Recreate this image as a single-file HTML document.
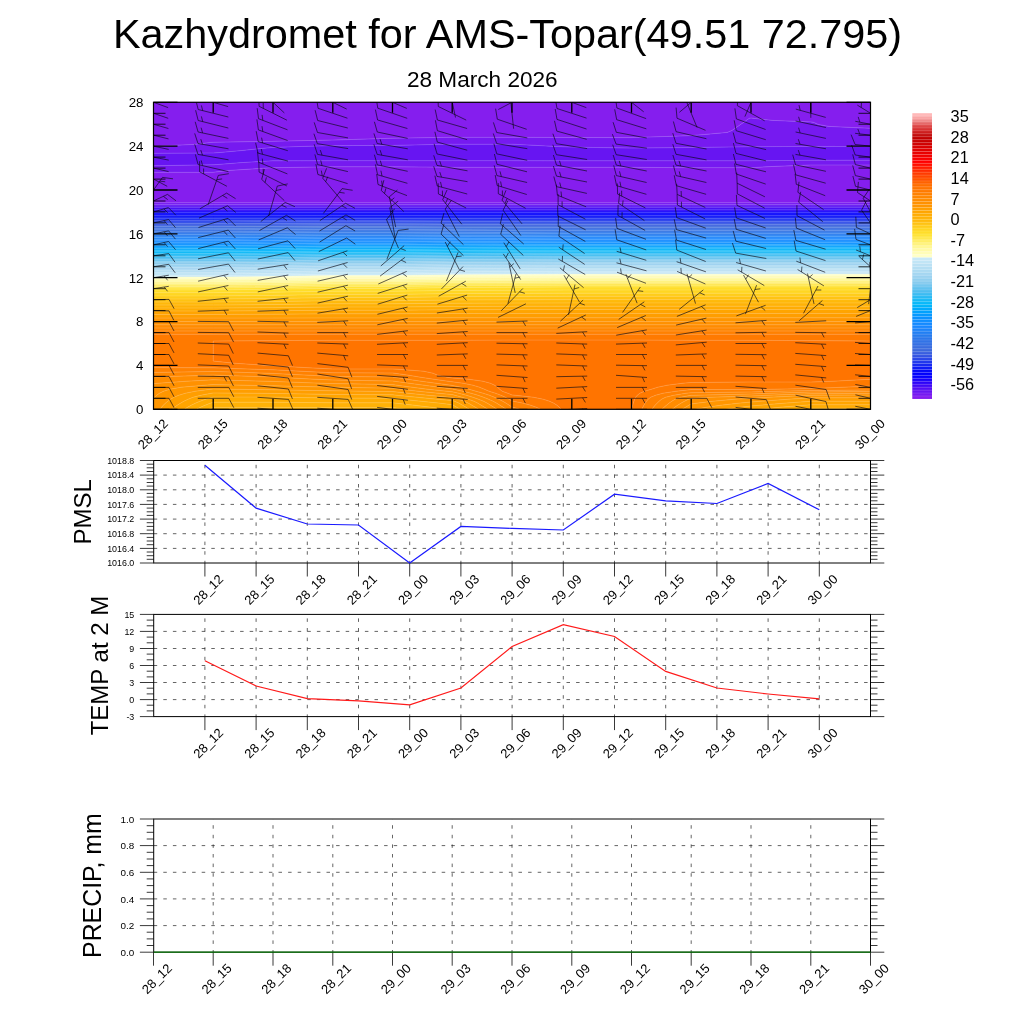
<!DOCTYPE html>
<html><head><meta charset="utf-8"><title>Kazhydromet for AMS-Topar</title>
<style>html,body{margin:0;padding:0;background:#fff}svg{display:block}</style></head>
<body>
<svg width="1024" height="1024" viewBox="0 0 1024 1024" font-family='"Liberation Sans", sans-serif'>
<rect width="1024" height="1024" fill="#fff"/>
<text x="507.5" y="48.3" font-size="41.4" text-anchor="middle">Kazhydromet for AMS-Topar(49.51 72.795)</text>
<text x="482.3" y="86.7" font-size="22.6" text-anchor="middle">28 March 2026</text>
<g shape-rendering="auto">
<path d="M153.5 102.3L213.2 102.3L273.0 102.3L332.8 102.3L392.5 102.3L452.2 102.3L512.0 102.3L571.8 102.3L631.5 102.3L691.2 102.3L751.0 102.3L810.8 102.3L870.5 102.3L870.5 104.3L870.5 106.3L870.5 108.3L870.5 110.3L870.5 112.3L870.5 114.3L870.5 116.3L870.5 118.4L870.5 120.4L870.5 122.4L870.5 124.4L870.5 126.4L870.5 128.3L828.8 126.4L818.2 124.4L813.7 122.4L810.8 121.9L773.0 120.4L754.2 118.4L751.0 118.0L749.1 118.4L746.3 120.4L743.5 122.4L740.7 124.4L737.8 126.4L734.9 128.4L732.0 130.4L727.3 132.4L705.3 134.4L691.2 135.6L668.0 136.4L631.5 137.6L571.8 137.5L512.0 137.3L452.2 137.3L392.5 138.2L385.8 138.4L332.8 140.1L313.1 140.4L273.0 141.3L213.2 142.3L210.8 142.4L194.1 144.4L153.5 146.2L153.5 144.4L153.5 142.4L153.5 140.4L153.5 138.4L153.5 136.4L153.5 134.4L153.5 132.4L153.5 130.4L153.5 128.4L153.5 126.4L153.5 124.4L153.5 122.4L153.5 120.4L153.5 118.4L153.5 116.3L153.5 114.3L153.5 112.3L153.5 110.3L153.5 108.3L153.5 106.3L153.5 104.3ZM772.0 166.5L810.8 165.0L870.5 165.0L870.5 166.5L870.5 168.5L870.5 170.5L870.5 172.5L870.5 174.5L870.5 176.5L870.5 178.5L870.5 180.6L870.5 182.6L870.5 184.6L870.5 186.6L870.5 188.6L870.5 190.6L870.5 192.6L870.5 194.6L870.5 196.6L870.5 198.6L870.5 200.6L870.5 202.6L870.5 202.7L810.8 202.7L751.0 202.7L691.2 202.7L631.5 202.7L571.8 202.7L512.0 202.7L452.2 202.7L392.5 202.7L332.8 202.7L273.0 202.7L213.2 202.7L153.5 202.7L153.5 202.6L153.5 200.6L153.5 198.6L153.5 196.6L153.5 194.6L153.5 192.6L153.5 190.6L153.5 188.6L153.5 186.6L153.5 184.6L153.5 182.6L153.5 180.6L153.5 178.5L153.5 176.5L153.5 174.5L153.5 172.5L153.5 172.3L213.2 172.3L228.3 170.5L259.4 168.5L273.0 167.7L332.8 166.8L392.5 166.8L452.2 167.3L512.0 167.3L571.8 167.3L631.5 167.3L691.2 167.7L751.0 167.7Z" fill="#851eee" stroke="#851eee" stroke-width="0.4"/>
<path d="M749.1 118.4L751.0 118.0L754.2 118.4L773.0 120.4L810.8 121.9L813.7 122.4L818.2 124.4L828.8 126.4L870.5 128.3L870.5 128.4L870.5 130.4L870.5 132.4L870.5 134.4L870.5 136.4L870.5 138.4L870.5 140.4L870.5 142.4L870.5 144.4L870.5 146.4L835.5 146.4L810.8 146.5L751.0 146.7L691.2 147.5L631.5 148.1L571.8 147.1L555.1 146.4L517.4 144.4L512.0 144.2L452.2 144.2L437.8 144.4L392.5 145.4L332.8 145.6L303.3 146.4L273.0 147.4L261.0 148.5L242.1 150.5L219.9 152.5L213.2 153.0L153.5 153.3L153.5 152.5L153.5 150.5L153.5 148.5L153.5 146.4L153.5 146.2L194.1 144.4L210.8 142.4L213.2 142.3L273.0 141.3L313.1 140.4L332.8 140.1L385.8 138.4L392.5 138.2L452.2 137.3L512.0 137.3L571.8 137.5L631.5 137.6L668.0 136.4L691.2 135.6L705.3 134.4L727.3 132.4L732.0 130.4L734.9 128.4L737.8 126.4L740.7 124.4L743.5 122.4L746.3 120.4ZM790.5 160.5L810.8 160.3L870.5 160.2L870.5 160.5L870.5 162.5L870.5 164.5L870.5 165.0L810.8 165.0L772.0 166.5L751.0 167.7L691.2 167.7L631.5 167.3L571.8 167.3L512.0 167.3L452.2 167.3L392.5 166.8L332.8 166.8L273.0 167.7L259.4 168.5L228.3 170.5L213.2 172.3L153.5 172.3L153.5 170.5L153.5 168.5L153.5 166.5L153.5 165.7L213.2 164.8L217.8 164.5L242.8 162.5L273.0 160.8L332.8 160.7L392.5 160.7L452.2 160.7L512.0 160.7L571.8 160.8L631.5 160.8L691.2 160.8L751.0 160.8ZM153.5 204.6L153.5 202.7L213.2 202.7L273.0 202.7L332.8 202.7L392.5 202.7L452.2 202.7L512.0 202.7L571.8 202.7L631.5 202.7L691.2 202.7L751.0 202.7L810.8 202.7L870.5 202.7L870.5 204.6L810.8 204.6L751.0 204.6L691.2 204.6L631.5 204.6L571.8 204.6L512.0 204.6L452.2 204.6L392.5 204.6L332.8 204.6L273.0 204.6L213.2 204.6Z" fill="#761af0" stroke="#761af0" stroke-width="0.4"/>
<path d="M437.8 144.4L452.2 144.2L512.0 144.2L517.4 144.4L555.1 146.4L571.8 147.1L631.5 148.1L691.2 147.5L751.0 146.7L810.8 146.5L835.5 146.4L870.5 146.4L870.5 146.4L870.5 148.5L870.5 150.5L870.5 152.5L870.5 154.5L870.5 156.5L870.5 158.5L870.5 160.2L810.7 160.3L790.5 160.5L751.0 160.8L691.2 160.8L631.5 160.8L571.8 160.8L512.0 160.7L452.2 160.7L392.5 160.7L332.8 160.7L273.0 160.8L242.8 162.5L217.8 164.5L213.2 164.8L153.5 165.7L153.5 164.5L153.5 162.5L153.5 160.5L153.5 158.5L153.5 156.5L153.5 154.5L153.5 153.3L213.2 153.0L219.9 152.5L242.1 150.5L261.0 148.5L273.0 147.4L303.3 146.4L332.8 145.6L392.5 145.4ZM153.5 204.6L153.5 204.6L213.2 204.6L273.0 204.6L332.8 204.6L392.5 204.6L452.2 204.6L512.0 204.6L571.8 204.6L631.5 204.6L691.2 204.6L751.0 204.6L810.8 204.6L870.5 204.6L870.5 204.6L870.5 206.1L810.8 206.1L751.0 206.1L691.2 206.1L631.5 206.1L571.8 206.1L512.0 206.1L452.2 206.1L392.5 206.1L332.8 206.1L273.0 206.1L213.2 206.1L153.5 206.1Z" fill="#6715f2" stroke="#6715f2" stroke-width="0.4"/>
<path d="M153.5 206.6L153.5 206.1L213.2 206.1L273.0 206.1L332.8 206.1L392.5 206.1L452.2 206.1L512.0 206.1L571.8 206.1L631.5 206.1L691.2 206.1L751.0 206.1L810.8 206.1L870.5 206.1L870.5 206.6L870.5 207.7L810.8 207.7L751.0 207.7L691.2 207.7L631.5 207.7L571.8 207.7L512.0 207.7L452.2 207.7L392.5 207.7L332.8 207.7L273.0 207.7L213.2 207.7L153.5 207.7Z" fill="#540ef4" stroke="#540ef4" stroke-width="0.4"/>
<path d="M153.5 208.6L153.5 207.7L213.2 207.7L273.0 207.7L332.8 207.7L392.5 207.7L452.2 207.7L512.0 207.7L571.8 207.7L631.5 207.7L691.2 207.7L751.0 207.7L810.8 207.7L870.5 207.7L870.5 208.6L870.5 209.3L810.8 209.3L751.0 209.3L691.2 209.3L631.5 209.3L571.8 209.3L512.0 209.3L452.2 209.3L392.5 209.3L332.8 209.3L273.0 209.3L213.2 209.3L153.5 209.3Z" fill="#4008f6" stroke="#4008f6" stroke-width="0.4"/>
<path d="M153.5 210.7L153.5 209.3L213.2 209.3L273.0 209.3L332.8 209.3L392.5 209.3L452.2 209.3L512.0 209.3L571.8 209.3L631.5 209.3L691.2 209.3L751.0 209.3L810.8 209.3L870.5 209.3L870.5 210.7L870.5 210.9L810.8 210.9L751.0 210.9L691.2 210.9L631.5 210.9L571.8 210.9L512.0 210.9L452.2 210.9L392.5 210.9L332.8 210.9L273.0 210.9L213.2 210.9L153.5 210.9Z" fill="#2c03f8" stroke="#2c03f8" stroke-width="0.4"/>
<path d="M153.5 212.4L153.5 210.9L213.2 210.9L273.0 210.9L332.7 210.9L392.5 210.9L452.2 210.9L512.0 210.9L571.7 210.9L631.5 210.9L691.2 210.9L751.0 210.9L810.7 210.9L870.5 210.9L870.5 212.4L810.8 212.4L751.0 212.4L691.2 212.4L631.5 212.4L571.8 212.4L512.0 212.4L452.2 212.4L392.5 212.4L332.8 212.4L273.0 212.4L213.2 212.4Z" fill="#1800fb" stroke="#1800fb" stroke-width="0.4"/>
<path d="M153.5 212.7L153.5 212.4L213.2 212.4L273.0 212.4L332.8 212.4L392.5 212.4L452.2 212.4L512.0 212.4L571.8 212.4L631.5 212.4L691.2 212.4L751.0 212.4L810.8 212.4L870.5 212.4L870.5 212.7L870.5 214.0L810.8 214.0L751.0 214.0L691.2 214.0L631.5 214.0L571.8 214.0L512.0 214.0L452.2 214.0L392.5 214.0L332.8 214.0L273.0 214.0L213.2 214.0L153.5 214.0Z" fill="#0600fe" stroke="#0600fe" stroke-width="0.4"/>
<path d="M153.5 214.7L153.5 214.0L213.2 214.0L273.0 214.0L332.8 214.0L392.5 214.0L452.2 214.0L512.0 214.0L571.8 214.0L631.5 214.0L691.2 214.0L751.0 214.0L810.8 214.0L870.5 214.0L870.5 214.7L870.5 215.5L810.8 215.5L751.0 215.5L691.2 215.5L631.5 215.5L571.8 215.5L512.0 215.5L452.2 215.5L392.5 215.5L332.8 215.5L273.0 215.6L213.2 215.6L153.5 215.6Z" fill="#0000fc" stroke="#0000fc" stroke-width="0.4"/>
<path d="M153.5 216.7L153.5 215.6L213.2 215.6L273.0 215.6L332.8 215.5L392.5 215.5L452.2 215.5L512.0 215.5L571.8 215.5L631.5 215.5L691.2 215.5L751.0 215.5L810.8 215.5L870.5 215.5L870.5 216.7L870.5 217.0L810.8 217.0L751.0 217.0L691.2 217.0L631.5 217.0L571.8 217.0L512.0 217.0L452.2 217.0L392.5 217.1L332.8 217.1L273.0 217.1L213.2 217.1L153.5 217.1Z" fill="#0408f9" stroke="#0408f9" stroke-width="0.4"/>
<path d="M153.5 218.7L153.5 217.1L213.2 217.1L273.0 217.1L332.8 217.1L392.5 217.1L452.2 217.0L512.0 217.0L571.8 217.0L631.5 217.0L691.2 217.0L751.0 217.0L810.8 217.0L870.5 217.0L870.5 218.5L810.8 218.5L751.0 218.5L691.2 218.5L631.5 218.5L571.8 218.5L512.0 218.5L452.3 218.6L392.5 218.6L332.8 218.6L279.6 218.7L273.0 218.7L213.2 218.7L153.5 218.7Z" fill="#0d1af6" stroke="#0d1af6" stroke-width="0.4"/>
<path d="M279.6 218.7L332.8 218.6L392.5 218.6L452.2 218.6L512.0 218.5L571.8 218.5L631.5 218.5L691.2 218.5L751.0 218.5L810.8 218.5L870.5 218.5L870.5 218.7L870.5 220.0L810.8 220.0L751.0 220.0L691.2 220.0L631.5 220.0L571.8 220.0L512.0 220.1L452.2 220.1L392.5 220.2L332.8 220.2L273.0 220.2L213.2 220.3L153.5 220.3L153.5 218.7L213.2 218.7L273.0 218.7Z" fill="#1729f1" stroke="#1729f1" stroke-width="0.4"/>
<path d="M153.5 220.7L153.5 220.3L213.2 220.3L273.0 220.2L332.8 220.2L392.5 220.2L452.2 220.1L512.0 220.1L571.8 220.0L631.5 220.0L691.2 220.0L751.0 220.0L810.8 220.0L870.5 220.0L870.5 220.7L870.5 221.5L810.8 221.5L751.0 221.5L691.2 221.5L631.5 221.5L571.8 221.5L512.0 221.6L452.2 221.6L392.5 221.7L332.8 221.7L273.0 221.8L213.2 221.9L153.5 221.9Z" fill="#2038ec" stroke="#2038ec" stroke-width="0.4"/>
<path d="M153.5 222.7L153.5 221.9L213.2 221.9L273.0 221.8L332.8 221.7L392.5 221.7L452.2 221.6L512.0 221.6L571.8 221.5L631.5 221.5L691.2 221.5L751.0 221.5L810.8 221.5L870.5 221.5L870.5 222.7L870.5 223.0L810.8 223.0L751.0 223.0L691.2 223.0L631.5 223.0L571.8 223.0L512.0 223.1L452.2 223.1L392.5 223.2L332.8 223.2L273.0 223.4L213.2 223.4L153.5 223.4Z" fill="#2946e8" stroke="#2946e8" stroke-width="0.4"/>
<path d="M153.5 224.7L153.5 223.4L213.2 223.4L273.0 223.4L332.8 223.2L392.5 223.2L452.2 223.1L512.0 223.1L571.8 223.0L631.5 223.0L691.2 223.0L751.0 223.0L810.8 223.0L870.5 223.0L870.5 224.6L810.8 224.6L751.0 224.6L691.3 224.6L631.5 224.6L571.8 224.6L512.0 224.6L452.2 224.6L419.5 224.7L392.5 224.8L332.8 224.8L273.0 224.9L213.2 225.0L153.5 225.0Z" fill="#3253e3" stroke="#3253e3" stroke-width="0.4"/>
<path d="M419.5 224.7L452.2 224.6L512.0 224.6L571.8 224.6L631.5 224.6L691.2 224.6L751.0 224.6L810.8 224.6L870.5 224.6L870.5 224.7L870.5 226.1L810.8 226.1L751.0 226.1L691.2 226.1L631.5 226.1L571.8 226.1L512.0 226.1L452.2 226.1L392.5 226.3L332.8 226.3L273.0 226.5L213.2 226.6L153.5 226.6L153.5 225.0L213.2 225.0L273.0 224.9L332.8 224.8L392.5 224.8Z" fill="#395fdf" stroke="#395fdf" stroke-width="0.4"/>
<path d="M153.5 226.7L153.5 226.6L213.2 226.6L273.0 226.5L332.8 226.3L392.5 226.3L452.2 226.1L512.0 226.1L571.8 226.1L631.5 226.1L691.2 226.1L751.0 226.1L810.8 226.1L870.5 226.1L870.5 226.7L870.5 227.6L810.8 227.6L751.0 227.6L691.2 227.6L631.5 227.6L571.8 227.6L512.0 227.6L452.2 227.7L392.5 227.8L332.8 227.8L273.0 228.1L213.2 228.2L153.5 228.2Z" fill="#3c69dc" stroke="#3c69dc" stroke-width="0.4"/>
<path d="M153.5 228.7L153.5 228.2L213.2 228.2L273.0 228.1L332.8 227.8L392.5 227.8L452.2 227.7L512.0 227.6L571.8 227.6L631.5 227.6L691.2 227.6L751.0 227.6L810.8 227.6L870.5 227.6L870.5 228.7L870.5 229.1L810.8 229.1L751.0 229.1L691.2 229.1L631.5 229.1L571.8 229.1L512.0 229.1L452.2 229.2L392.5 229.4L332.8 229.4L273.0 229.6L213.2 229.8L153.5 229.8Z" fill="#396cdf" stroke="#396cdf" stroke-width="0.4"/>
<path d="M153.5 230.7L153.5 229.8L213.2 229.8L273.0 229.6L332.8 229.4L392.5 229.4L452.2 229.2L512.0 229.1L571.8 229.1L631.5 229.1L691.2 229.1L751.0 229.1L810.8 229.1L870.5 229.1L870.5 230.6L810.8 230.6L751.0 230.6L691.2 230.6L631.5 230.6L571.8 230.6L512.0 230.6L452.2 230.7L445.2 230.7L392.5 230.9L332.8 230.9L273.0 231.2L213.2 231.3L153.5 231.3Z" fill="#3570e3" stroke="#3570e3" stroke-width="0.4"/>
<path d="M445.2 230.7L452.2 230.7L512.0 230.6L571.8 230.6L631.5 230.6L691.2 230.6L751.0 230.6L810.8 230.6L870.5 230.6L870.5 230.7L870.5 232.1L810.8 232.1L751.0 232.1L691.2 232.1L631.5 232.1L571.8 232.1L512.0 232.1L452.2 232.2L392.5 232.4L332.8 232.4L277.9 232.7L273.0 232.8L213.2 232.9L153.5 232.9L153.5 232.7L153.5 231.3L213.2 231.3L273.0 231.2L332.8 230.9L392.5 230.9Z" fill="#3273e6" stroke="#3273e6" stroke-width="0.4"/>
<path d="M277.9 232.7L332.8 232.4L392.5 232.4L452.2 232.2L512.0 232.2L571.8 232.1L631.5 232.1L691.2 232.1L751.0 232.1L810.8 232.1L870.5 232.1L870.5 232.7L870.5 233.6L810.8 233.6L751.0 233.6L691.2 233.6L631.5 233.6L571.8 233.6L512.0 233.7L452.2 233.7L392.5 234.0L332.8 234.0L273.0 234.3L213.2 234.5L153.5 234.5L153.5 232.9L213.3 232.9L273.0 232.7Z" fill="#2c77ea" stroke="#2c77ea" stroke-width="0.4"/>
<path d="M153.5 234.7L153.5 234.5L213.2 234.5L273.0 234.3L332.8 234.0L392.5 234.0L452.2 233.7L512.0 233.7L571.8 233.6L631.5 233.6L691.2 233.6L751.0 233.6L810.8 233.6L870.5 233.6L870.5 234.7L870.5 235.1L810.8 235.1L751.0 235.1L691.2 235.1L631.5 235.1L571.8 235.1L512.0 235.2L452.2 235.2L392.5 235.5L332.8 235.5L273.0 235.9L213.2 236.1L153.5 236.1Z" fill="#267bee" stroke="#267bee" stroke-width="0.4"/>
<path d="M153.5 236.7L153.5 236.1L213.2 236.1L273.0 235.9L332.8 235.5L392.5 235.5L452.2 235.2L512.0 235.2L571.8 235.1L631.5 235.1L691.2 235.1L751.0 235.1L810.8 235.1L870.5 235.1L870.5 236.6L810.8 236.6L751.0 236.6L691.2 236.6L631.5 236.6L571.8 236.6L512.0 236.7L471.8 236.7L452.2 236.8L392.5 237.1L332.8 237.1L273.0 237.4L213.2 237.6L153.5 237.6Z" fill="#217ff3" stroke="#217ff3" stroke-width="0.4"/>
<path d="M471.8 236.7L512.0 236.7L571.8 236.6L631.5 236.6L691.2 236.6L751.0 236.6L810.8 236.6L870.5 236.6L870.5 236.7L870.5 238.1L810.8 238.1L751.0 238.1L691.2 238.1L631.5 238.1L571.8 238.1L512.0 238.2L452.3 238.3L392.5 238.6L332.8 238.6L311.0 238.7L273.0 239.0L213.2 239.2L153.5 239.2L153.5 238.7L153.5 237.6L213.2 237.6L273.0 237.4L332.8 237.1L392.5 237.1L452.2 236.8Z" fill="#1d83f9" stroke="#1d83f9" stroke-width="0.4"/>
<path d="M311.0 238.7L332.8 238.6L392.5 238.6L452.2 238.3L512.0 238.2L571.8 238.1L631.5 238.1L691.2 238.1L751.0 238.1L810.8 238.1L870.5 238.1L870.5 238.7L870.5 239.6L810.8 239.6L751.0 239.6L691.2 239.6L631.5 239.6L571.8 239.6L512.0 239.7L452.2 239.8L392.5 240.1L332.8 240.1L273.0 240.6L220.0 240.8L213.2 240.8L153.5 240.8L153.5 240.8L153.5 239.2L213.2 239.2L273.0 239.0Z" fill="#1987ff" stroke="#1987ff" stroke-width="0.4"/>
<path d="M220.0 240.8L273.0 240.6L332.8 240.1L392.5 240.1L452.2 239.8L512.0 239.7L571.8 239.6L631.5 239.6L691.2 239.6L751.0 239.6L810.8 239.6L870.5 239.6L870.5 240.8L870.5 241.1L810.8 241.1L751.0 241.1L691.2 241.1L631.5 241.1L571.8 241.1L512.0 241.2L452.2 241.3L392.5 241.7L332.8 241.7L273.0 242.1L213.3 242.4L153.5 242.3L153.5 240.8L213.2 240.8Z" fill="#148aff" stroke="#148aff" stroke-width="0.4"/>
<path d="M153.5 242.8L153.5 242.3L213.2 242.3L273.0 242.1L332.8 241.7L392.5 241.7L452.2 241.3L512.0 241.2L571.8 241.1L631.5 241.1L691.2 241.1L751.0 241.1L810.8 241.1L870.5 241.1L870.5 242.6L810.7 242.6L751.0 242.6L691.2 242.6L631.5 242.6L571.8 242.6L512.0 242.7L499.4 242.8L452.2 242.8L392.5 243.2L332.8 243.2L273.0 243.7L213.2 243.9L153.5 243.9Z" fill="#0f8eff" stroke="#0f8eff" stroke-width="0.4"/>
<path d="M499.4 242.8L512.0 242.7L571.8 242.6L631.5 242.6L691.2 242.6L751.0 242.6L810.8 242.6L870.5 242.6L870.5 242.8L870.5 244.1L810.8 244.1L751.0 244.1L691.2 244.1L631.5 244.1L571.8 244.1L512.0 244.2L452.2 244.3L392.5 244.8L332.7 244.8L331.0 244.8L273.0 245.2L213.2 245.5L153.5 245.5L153.5 244.8L153.5 243.9L213.2 243.9L273.0 243.7L332.8 243.2L392.5 243.2L452.2 242.8Z" fill="#0a91ff" stroke="#0a91ff" stroke-width="0.4"/>
<path d="M331.0 244.8L332.8 244.8L392.5 244.8L452.2 244.3L512.0 244.2L571.8 244.2L631.5 244.2L691.2 244.2L751.0 244.2L810.8 244.2L870.5 244.1L870.5 244.8L870.5 245.7L810.8 245.7L751.0 245.7L691.2 245.7L631.5 245.7L571.8 245.7L512.0 245.8L452.2 245.9L392.5 246.3L332.8 246.3L277.7 246.8L273.0 246.8L213.2 247.1L153.5 247.1L153.5 246.8L153.5 245.5L213.2 245.5L273.0 245.2Z" fill="#0699fe" stroke="#0699fe" stroke-width="0.4"/>
<path d="M277.7 246.8L332.8 246.3L392.5 246.3L452.2 245.9L512.0 245.8L571.8 245.7L631.5 245.7L691.2 245.7L751.0 245.7L810.8 245.7L870.5 245.7L870.5 246.8L870.5 247.2L810.8 247.2L751.0 247.2L691.2 247.2L631.5 247.2L571.8 247.2L512.0 247.3L452.2 247.4L392.5 247.8L332.8 247.8L273.0 248.4L213.2 248.6L153.5 248.7L153.5 247.1L213.2 247.1L273.0 246.8Z" fill="#02a1fd" stroke="#02a1fd" stroke-width="0.4"/>
<path d="M153.5 248.8L153.5 248.7L213.2 248.7L273.0 248.4L332.8 247.8L392.5 247.8L452.2 247.4L512.0 247.3L571.8 247.2L631.5 247.2L691.2 247.2L751.0 247.2L810.8 247.2L870.5 247.2L870.5 248.7L810.8 248.7L751.0 248.7L691.2 248.7L631.5 248.7L571.8 248.7L517.4 248.8L512.0 248.8L452.2 248.9L392.5 249.4L332.8 249.4L273.0 249.9L213.2 250.2L153.5 250.2Z" fill="#00aafc" stroke="#00aafc" stroke-width="0.4"/>
<path d="M517.4 248.8L571.8 248.7L631.5 248.7L691.2 248.7L751.0 248.7L810.8 248.7L870.5 248.7L870.5 248.8L870.5 250.2L810.8 250.2L751.0 250.2L691.2 250.2L631.5 250.2L571.8 250.2L512.0 250.3L452.2 250.4L406.8 250.8L392.5 250.9L332.8 250.9L273.0 251.5L213.2 251.8L153.5 251.8L153.5 250.8L153.5 250.2L213.2 250.2L273.0 249.9L332.8 249.4L392.5 249.4L452.2 248.9L512.0 248.8Z" fill="#00b4fa" stroke="#00b4fa" stroke-width="0.4"/>
<path d="M406.8 250.8L452.2 250.4L512.0 250.3L571.8 250.2L631.5 250.2L691.2 250.2L751.0 250.2L810.8 250.2L870.5 250.2L870.5 250.8L870.5 251.7L810.8 251.7L751.0 251.7L691.2 251.7L631.5 251.7L571.8 251.7L512.0 251.8L452.2 251.9L392.5 252.4L332.8 252.4L298.8 252.8L273.0 253.1L213.2 253.4L153.5 253.4L153.5 252.8L153.5 251.8L213.2 251.8L273.0 251.5L332.8 250.9L392.5 250.9Z" fill="#08b9f9" stroke="#08b9f9" stroke-width="0.4"/>
<path d="M298.8 252.8L332.8 252.4L392.5 252.4L452.2 251.9L512.0 251.8L571.8 251.7L631.5 251.7L691.2 251.7L751.0 251.7L810.8 251.7L870.5 251.7L870.5 252.8L870.5 253.2L810.8 253.2L751.0 253.2L691.2 253.2L631.5 253.2L571.8 253.2L512.0 253.3L452.2 253.5L392.5 254.0L332.8 254.0L273.0 254.6L241.3 254.8L213.2 255.0L153.5 255.0L153.5 254.8L153.5 253.4L213.2 253.4L273.0 253.1Z" fill="#16b9f6" stroke="#16b9f6" stroke-width="0.4"/>
<path d="M241.3 254.8L273.0 254.6L332.8 254.0L392.5 254.0L452.3 253.5L512.0 253.3L571.8 253.2L631.5 253.2L691.2 253.2L751.0 253.2L810.8 253.2L870.5 253.2L870.5 254.7L810.8 254.7L751.0 254.7L691.2 254.7L631.5 254.7L571.8 254.7L530.0 254.8L512.0 254.8L452.2 255.0L392.5 255.5L332.8 255.5L273.0 256.2L213.2 256.5L153.5 256.5L153.5 255.0L213.2 255.0Z" fill="#28baf4" stroke="#28baf4" stroke-width="0.4"/>
<path d="M530.0 254.8L571.8 254.7L631.5 254.7L691.2 254.7L751.0 254.7L810.8 254.7L870.5 254.7L870.5 254.8L870.5 256.2L810.8 256.2L751.0 256.2L691.2 256.2L631.5 256.2L571.8 256.2L512.0 256.4L452.2 256.5L418.6 256.8L392.5 257.1L332.8 257.1L273.0 257.8L213.2 258.1L153.5 258.1L153.5 256.8L153.5 256.5L213.2 256.5L273.0 256.2L332.8 255.5L392.5 255.5L452.2 255.0L512.0 254.8Z" fill="#3cbcf2" stroke="#3cbcf2" stroke-width="0.4"/>
<path d="M418.6 256.8L452.2 256.5L512.0 256.4L571.8 256.2L631.5 256.2L691.2 256.2L751.0 256.2L810.8 256.2L870.5 256.2L870.5 256.8L870.5 257.7L810.8 257.7L751.0 257.7L691.2 257.7L631.5 257.7L571.8 257.7L512.0 257.9L452.2 258.0L392.5 258.6L332.8 258.6L314.2 258.8L273.0 259.3L213.2 259.7L153.5 259.7L153.5 258.8L153.5 258.1L213.2 258.1L273.0 257.8L332.8 257.1L392.5 257.1Z" fill="#50bef0" stroke="#50bef0" stroke-width="0.4"/>
<path d="M314.2 258.8L332.8 258.6L392.5 258.6L452.2 258.0L512.0 257.9L571.8 257.7L631.5 257.7L691.2 257.7L751.0 257.7L810.8 257.7L870.5 257.7L870.5 258.8L870.5 259.2L810.8 259.2L751.0 259.2L691.2 259.2L631.5 259.2L571.8 259.2L512.0 259.4L452.2 259.5L392.5 260.1L332.8 260.1L277.6 260.8L273.0 260.9L213.2 261.2L153.5 261.2L153.5 260.8L153.5 259.7L213.2 259.7L273.0 259.3Z" fill="#62c2ef" stroke="#62c2ef" stroke-width="0.4"/>
<path d="M277.6 260.8L332.8 260.1L392.5 260.1L452.2 259.5L512.0 259.4L571.8 259.2L631.5 259.2L691.2 259.2L751.0 259.2L810.8 259.2L870.5 259.2L870.5 260.7L810.8 260.7L751.0 260.7L691.3 260.7L631.5 260.7L571.8 260.7L539.4 260.8L512.0 260.9L452.2 261.0L392.5 261.7L332.8 261.7L273.0 262.4L213.6 262.8L213.2 262.8L153.5 262.8L153.5 262.8L153.5 261.2L213.3 261.2L273.0 260.9Z" fill="#75c7ef" stroke="#75c7ef" stroke-width="0.4"/>
<path d="M539.4 260.8L571.8 260.7L631.5 260.7L691.2 260.7L751.0 260.7L810.8 260.7L870.5 260.7L870.5 260.8L870.5 262.2L810.8 262.2L751.0 262.2L691.2 262.2L631.5 262.2L571.8 262.2L512.0 262.4L452.2 262.6L427.5 262.8L392.5 263.2L332.8 263.2L273.0 264.0L213.2 264.4L153.5 264.4L153.5 262.8L213.2 262.8L213.6 262.8L273.0 262.4L332.8 261.7L392.5 261.7L452.2 261.0L512.0 260.9Z" fill="#87cbee" stroke="#87cbee" stroke-width="0.4"/>
<path d="M427.5 262.8L452.2 262.6L512.0 262.4L571.8 262.2L631.5 262.2L691.2 262.2L751.0 262.2L810.8 262.2L870.5 262.2L870.5 262.8L870.5 263.7L810.8 263.7L751.0 263.7L691.2 263.7L631.5 263.7L571.8 263.7L512.0 263.9L452.2 264.1L392.5 264.7L332.8 264.7L326.0 264.8L273.0 265.6L213.2 266.0L153.5 266.0L153.5 264.8L153.5 264.4L213.2 264.4L273.0 264.0L332.8 263.2L392.5 263.2Z" fill="#91cfef" stroke="#91cfef" stroke-width="0.4"/>
<path d="M326.0 264.8L332.8 264.7L392.5 264.7L452.2 264.1L512.0 263.9L571.8 263.7L631.5 263.7L691.2 263.7L751.0 263.7L810.8 263.7L870.5 263.7L870.5 264.8L870.5 265.3L810.8 265.3L751.0 265.3L691.2 265.3L631.5 265.3L571.8 265.3L512.0 265.4L452.2 265.6L392.5 266.3L332.8 266.3L293.1 266.8L273.0 267.1L213.2 267.6L153.5 267.6L153.5 266.8L153.5 266.0L213.2 266.0L273.0 265.6Z" fill="#9bd2f0" stroke="#9bd2f0" stroke-width="0.4"/>
<path d="M293.1 266.8L332.8 266.3L392.5 266.3L452.2 265.6L512.0 265.4L571.8 265.3L631.5 265.3L691.2 265.3L751.0 265.3L810.8 265.3L870.5 265.3L870.5 266.8L810.8 266.8L751.0 266.8L691.2 266.8L631.5 266.8L571.8 266.8L546.6 266.8L512.0 266.9L452.2 267.1L392.5 267.8L332.8 267.8L273.0 268.7L251.7 268.8L213.2 269.1L153.5 269.1L153.5 268.8L153.5 267.6L213.2 267.6L273.0 267.1Z" fill="#a4d6f1" stroke="#a4d6f1" stroke-width="0.4"/>
<path d="M546.6 266.8L571.8 266.8L631.5 266.8L691.2 266.8L751.0 266.8L810.8 266.8L870.5 266.8L870.5 266.8L870.5 268.3L810.8 268.3L751.0 268.3L691.2 268.3L631.5 268.3L571.8 268.3L512.0 268.4L452.2 268.6L434.5 268.8L392.5 269.4L332.8 269.4L273.0 270.2L213.2 270.7L153.5 270.7L153.5 269.1L213.2 269.1L251.7 268.8L273.0 268.7L332.8 267.8L392.5 267.8L452.2 267.1L512.0 266.9Z" fill="#acdaf2" stroke="#acdaf2" stroke-width="0.4"/>
<path d="M434.5 268.8L452.2 268.6L512.0 268.4L571.8 268.3L631.5 268.3L691.2 268.3L751.0 268.3L810.8 268.3L870.5 268.3L870.5 268.8L870.5 269.8L810.8 269.8L751.0 269.8L691.2 269.8L631.5 269.8L571.8 269.8L512.0 270.0L452.2 270.1L395.6 270.8L392.5 270.9L332.8 270.9L273.0 271.8L213.2 272.3L153.5 272.3L153.5 270.8L153.5 270.7L213.2 270.7L273.0 270.2L332.8 269.4L392.5 269.4Z" fill="#b4def3" stroke="#b4def3" stroke-width="0.4"/>
<path d="M395.6 270.8L452.2 270.1L512.0 270.0L571.8 269.8L631.5 269.8L691.2 269.8L751.0 269.8L810.8 269.8L870.5 269.8L870.5 270.8L870.5 271.3L810.8 271.3L751.0 271.3L691.2 271.3L631.5 271.3L571.8 271.3L512.0 271.5L452.2 271.7L392.5 272.4L332.8 272.4L305.4 272.9L273.0 273.4L213.2 273.9L153.5 273.9L153.5 272.9L153.5 272.3L213.2 272.3L273.0 271.8L332.8 270.9L392.5 270.9Z" fill="#bbe1f4" stroke="#bbe1f4" stroke-width="0.4"/>
<path d="M305.4 272.9L332.8 272.4L392.5 272.4L452.2 271.7L512.0 271.5L571.8 271.3L631.5 271.3L691.2 271.3L751.0 271.3L810.8 271.3L870.5 271.3L870.5 272.8L810.8 272.8L751.0 272.8L691.2 272.8L631.5 272.8L571.8 272.8L552.4 272.9L512.0 273.0L452.2 273.2L392.5 274.0L332.8 274.0L277.6 274.9L273.0 274.9L213.2 275.4L153.5 275.4L153.5 274.9L153.5 273.9L213.2 273.9L273.0 273.4Z" fill="#c1e5f6" stroke="#c1e5f6" stroke-width="0.4"/>
<path d="M552.4 272.9L571.8 272.8L631.5 272.8L691.2 272.8L751.0 272.8L810.8 272.8L870.5 272.8L870.5 272.9L870.5 274.3L810.8 274.3L751.0 274.3L691.2 274.3L631.5 274.3L571.8 274.3L512.0 274.5L452.2 274.7L440.4 274.9L392.5 275.5L332.8 275.5L273.0 276.5L228.9 276.9L213.2 277.0L153.5 277.0L153.5 276.9L153.5 275.4L213.2 275.4L273.0 274.9L277.6 274.9L332.8 274.0L392.5 274.0L452.2 273.2L512.0 273.0Z" fill="#c8e8f7" stroke="#c8e8f7" stroke-width="0.4"/>
<path d="M440.4 274.9L452.2 274.7L512.0 274.5L571.8 274.3L631.5 274.3L691.2 274.3L751.0 274.3L810.8 274.3L870.5 274.3L870.5 274.9L870.5 275.9L810.8 275.9L751.0 275.9L691.2 275.9L631.5 275.9L571.8 275.9L512.0 276.1L452.2 276.3L407.9 276.9L392.5 277.1L332.8 277.1L273.0 278.1L213.2 278.6L153.5 278.6L153.5 277.0L213.2 277.0L228.9 276.9L273.0 276.5L332.8 275.5L392.5 275.5Z" fill="#ffffc8" stroke="#ffffc8" stroke-width="0.4"/>
<path d="M407.9 276.9L452.2 276.3L512.0 276.1L571.8 275.9L631.5 275.9L691.2 275.9L751.0 275.9L810.8 275.9L870.5 275.9L870.5 276.9L870.5 277.4L810.8 277.4L751.0 277.4L691.2 277.4L631.5 277.4L571.8 277.4L512.0 277.6L452.2 277.9L392.5 278.6L332.8 278.6L319.3 278.9L273.0 279.6L213.2 280.1L153.5 280.1L153.5 278.9L153.5 278.6L213.2 278.6L273.0 278.1L332.8 277.1L392.5 277.1Z" fill="#fffdb7" stroke="#fffdb7" stroke-width="0.4"/>
<path d="M319.3 278.9L332.8 278.7L392.5 278.7L452.2 277.9L512.0 277.6L571.8 277.4L631.5 277.4L691.2 277.4L751.0 277.4L810.8 277.4L870.5 277.4L870.5 278.9L870.5 279.0L810.8 279.0L751.0 279.0L691.2 279.0L631.5 279.0L571.8 279.0L512.0 279.2L452.2 279.4L392.5 280.2L332.8 280.2L293.5 280.9L273.0 281.2L213.2 281.7L153.5 281.7L153.5 280.9L153.5 280.1L213.2 280.1L273.0 279.6Z" fill="#fffaa7" stroke="#fffaa7" stroke-width="0.4"/>
<path d="M293.5 280.9L332.8 280.2L392.5 280.2L452.2 279.4L512.0 279.2L571.8 279.0L631.5 279.0L691.3 279.0L751.0 279.0L810.8 279.0L870.5 279.0L870.5 280.6L810.8 280.6L751.0 280.6L691.2 280.6L631.5 280.6L571.8 280.6L512.0 280.8L487.6 280.9L452.2 281.0L392.5 281.8L332.8 281.8L273.0 282.8L262.5 282.9L213.2 283.3L153.5 283.3L153.5 282.9L153.5 281.7L213.2 281.7L273.0 281.2Z" fill="#fff896" stroke="#fff896" stroke-width="0.4"/>
<path d="M487.6 280.9L512.0 280.8L571.8 280.6L631.5 280.6L691.2 280.6L751.0 280.6L810.8 280.6L870.5 280.6L870.5 280.9L870.5 282.2L810.8 282.2L751.0 282.2L691.2 282.2L631.5 282.2L571.8 282.2L512.0 282.4L452.2 282.6L428.9 282.9L392.5 283.4L332.8 283.4L273.0 284.4L213.2 284.9L153.5 284.9L153.5 283.3L213.2 283.3L262.5 282.9L273.0 282.8L332.8 281.8L392.5 281.8L452.2 281.0Z" fill="#fff37e" stroke="#fff37e" stroke-width="0.4"/>
<path d="M428.9 282.9L452.2 282.6L512.0 282.4L571.8 282.2L631.5 282.2L691.2 282.2L751.0 282.2L810.8 282.2L870.5 282.2L870.5 282.9L870.5 283.8L810.8 283.8L751.0 283.8L691.2 283.8L631.5 283.8L571.8 283.8L512.0 284.0L452.2 284.1L396.6 284.9L392.5 285.0L332.8 285.0L273.0 286.0L213.2 286.4L153.5 286.4L153.5 284.9L153.5 284.9L213.2 284.9L273.0 284.4L332.8 283.4L392.5 283.4Z" fill="#ffee66" stroke="#ffee66" stroke-width="0.4"/>
<path d="M396.6 284.9L452.2 284.1L512.0 284.0L571.8 283.8L631.5 283.8L691.2 283.8L751.0 283.8L810.8 283.8L870.5 283.8L870.5 284.9L870.5 285.3L810.8 285.3L751.0 285.3L691.2 285.3L631.5 285.3L571.8 285.3L512.0 285.5L452.2 285.7L392.5 286.5L332.7 286.5L310.3 286.9L273.0 287.5L213.2 288.0L153.5 288.0L153.5 286.9L153.5 286.4L213.2 286.4L273.0 286.0L332.8 285.0L392.5 285.0Z" fill="#ffe84f" stroke="#ffe84f" stroke-width="0.4"/>
<path d="M310.3 286.9L332.8 286.5L392.5 286.5L452.2 285.7L512.0 285.5L571.8 285.3L631.5 285.3L691.2 285.3L751.0 285.3L810.8 285.3L870.5 285.3L870.5 286.9L810.8 286.9L751.0 286.9L691.2 286.9L631.5 286.9L571.8 286.9L571.6 286.9L512.0 287.3L452.2 287.6L392.5 288.4L332.8 288.4L292.2 288.9L273.0 289.3L213.2 289.9L153.5 289.9L153.5 288.9L153.5 288.0L213.2 288.0L273.0 287.5Z" fill="#ffe438" stroke="#ffe438" stroke-width="0.4"/>
<path d="M571.6 286.9L571.8 286.9L631.5 286.9L691.2 286.9L751.0 286.9L810.8 286.9L870.5 286.9L870.5 286.9L870.5 288.9L870.5 290.0L810.8 290.0L751.0 290.0L691.2 290.0L631.5 290.0L571.8 290.0L512.0 290.2L452.2 290.4L416.3 290.9L392.5 291.2L332.8 291.2L273.0 292.2L213.2 292.7L153.5 292.7L153.5 290.9L153.5 289.9L213.2 289.9L273.0 289.3L292.2 288.9L332.8 288.4L392.5 288.4L452.2 287.6L512.0 287.3Z" fill="#ffdd29" stroke="#ffdd29" stroke-width="0.4"/>
<path d="M416.3 290.9L452.2 290.4L512.0 290.2L571.8 290.0L631.5 290.0L691.2 290.0L751.0 290.0L810.8 290.0L870.5 290.0L870.5 290.9L870.5 292.9L870.5 293.2L810.8 293.2L751.0 293.2L691.2 293.2L631.5 293.2L571.8 293.2L512.0 293.4L452.2 293.6L392.5 294.4L332.8 294.4L299.2 294.9L273.0 295.4L213.2 295.9L153.5 295.9L153.5 294.9L153.5 292.9L153.5 292.7L213.2 292.7L273.0 292.2L332.8 291.2L392.5 291.2Z" fill="#ffd622" stroke="#ffd622" stroke-width="0.4"/>
<path d="M299.2 294.9L332.8 294.4L392.5 294.4L452.2 293.6L512.0 293.4L571.8 293.2L631.5 293.2L691.2 293.2L751.0 293.2L810.8 293.2L870.5 293.2L870.5 294.9L870.5 296.3L810.8 296.3L751.0 296.3L691.2 296.3L631.5 296.3L571.8 296.3L512.0 296.5L452.2 296.7L435.2 296.9L392.5 297.5L332.8 297.5L273.0 298.5L220.2 298.9L213.2 299.0L153.5 299.0L153.5 298.9L153.5 296.9L153.5 295.9L213.2 295.9L273.0 295.4Z" fill="#ffcd1a" stroke="#ffcd1a" stroke-width="0.4"/>
<path d="M435.2 296.9L452.2 296.7L512.0 296.5L571.8 296.3L631.5 296.3L691.2 296.3L751.0 296.3L810.8 296.3L870.5 296.3L870.5 296.9L870.5 298.9L870.5 299.6L810.8 299.6L751.0 299.6L691.2 299.6L631.5 299.6L571.8 299.6L512.0 299.8L452.2 300.0L392.5 300.7L332.8 300.7L314.4 300.9L273.0 301.6L213.2 302.0L153.5 302.0L153.5 300.9L153.5 299.0L213.2 299.0L220.2 298.9L273.0 298.5L332.8 297.5L392.5 297.5Z" fill="#ffc312" stroke="#ffc312" stroke-width="0.4"/>
<path d="M314.4 300.9L332.8 300.7L392.5 300.7L452.2 300.0L512.0 299.8L571.8 299.6L631.5 299.6L691.2 299.6L751.0 299.6L810.8 299.6L870.5 299.6L870.5 300.9L870.5 302.9L810.8 302.9L751.0 302.9L691.2 302.9L631.5 302.9L571.8 302.9L551.3 303.0L512.0 303.1L452.2 303.2L392.5 303.8L332.8 303.8L273.0 304.6L219.5 305.0L213.2 305.0L153.5 305.0L153.5 305.0L153.5 303.0L153.5 302.0L213.2 302.0L273.0 301.6ZM208.8 409.3L213.2 407.4L273.0 407.4L332.8 407.6L392.5 407.6L406.7 409.3L392.5 409.3L332.8 409.3L273.0 409.3L213.2 409.3Z" fill="#ffb90a" stroke="#ffb90a" stroke-width="0.4"/>
<path d="M551.3 303.0L571.8 302.9L631.5 302.9L691.2 302.9L751.0 302.9L810.8 302.9L870.5 302.9L870.5 303.0L870.5 305.0L870.5 306.2L810.8 306.2L751.0 306.2L691.2 306.2L631.5 306.2L571.8 306.2L512.0 306.3L452.2 306.5L396.3 307.0L392.5 307.0L332.8 307.0L273.0 307.7L213.2 308.0L153.5 308.0L153.5 307.0L153.5 305.0L213.2 305.0L219.5 305.0L273.0 304.6L332.8 303.8L392.5 303.8L452.2 303.2L512.0 303.1ZM210.1 403.3L213.2 402.2L273.0 402.2L332.8 402.8L392.5 402.8L396.9 403.3L414.6 405.3L431.2 407.3L447.0 409.3L406.7 409.3L392.5 407.6L332.8 407.6L273.0 407.4L213.2 407.4L208.8 409.3L196.6 409.3L200.5 407.3L205.0 405.3ZM798.6 409.3L810.8 408.2L870.5 408.2L870.5 409.3L810.8 409.3Z" fill="#ffb207" stroke="#ffb207" stroke-width="0.4"/>
<path d="M396.3 307.0L452.2 306.5L512.0 306.3L571.8 306.2L631.5 306.2L691.2 306.2L751.0 306.2L810.8 306.2L870.5 306.2L870.5 307.0L870.5 309.0L870.5 309.5L810.8 309.5L751.0 309.5L691.2 309.5L631.5 309.5L571.8 309.5L512.0 309.6L452.2 309.7L392.5 310.2L332.8 310.2L273.0 310.7L217.7 311.0L213.2 311.0L153.5 311.0L153.5 311.0L153.5 309.0L153.5 308.0L213.2 308.0L273.0 307.7L332.7 307.0L392.5 307.0ZM212.3 397.3L213.2 397.1L273.0 397.1L284.7 397.3L332.8 398.1L392.5 398.2L401.9 399.3L421.1 401.3L440.8 403.3L452.2 404.7L453.3 405.3L456.8 407.3L460.3 409.3L452.2 409.3L447.0 409.3L431.2 407.3L414.6 405.3L396.9 403.3L392.5 402.8L332.8 402.8L273.0 402.2L213.2 402.2L210.1 403.3L205.0 405.3L200.5 407.3L196.6 409.3L184.4 409.3L187.5 407.3L191.1 405.3L195.2 403.3L200.0 401.3L205.6 399.3ZM803.9 405.3L810.8 404.8L870.5 404.8L870.5 405.3L870.5 407.3L870.5 408.2L810.8 408.2L798.6 409.3L758.1 409.3L779.8 407.3Z" fill="#ffac03" stroke="#ffac03" stroke-width="0.4"/>
<path d="M217.7 311.0L273.0 310.7L332.8 310.2L392.5 310.2L452.2 309.7L512.0 309.6L571.8 309.5L631.5 309.5L691.2 309.5L751.0 309.5L810.8 309.5L870.5 309.5L870.5 311.0L870.5 313.0L870.5 313.4L810.8 313.4L751.0 313.4L691.2 313.4L631.5 313.4L571.8 313.4L512.0 313.4L452.2 313.5L392.5 313.8L332.8 313.8L273.0 314.2L213.2 314.4L153.5 314.4L153.5 313.0L153.5 311.0L213.2 311.0ZM211.6 393.2L213.2 393.0L248.8 393.2L273.0 393.4L332.8 394.4L392.5 394.8L396.9 395.3L417.4 397.3L437.6 399.3L452.2 400.5L454.7 401.3L459.2 403.3L462.7 405.3L466.1 407.3L469.5 409.3L460.3 409.3L456.8 407.3L453.3 405.3L452.2 404.7L440.8 403.3L421.1 401.3L401.9 399.3L392.5 398.2L332.8 398.1L284.7 397.3L273.0 397.1L213.2 397.1L212.3 397.3L205.6 399.3L200.0 401.3L195.2 403.3L191.1 405.3L187.5 407.3L184.4 409.3L172.2 409.3L174.5 407.3L177.2 405.3L180.3 403.3L183.8 401.3L188.0 399.3L193.0 397.3L200.8 395.3ZM810.4 401.3L810.8 401.2L870.5 401.2L870.5 401.3L870.5 403.3L870.5 404.8L810.8 404.8L803.9 405.3L779.8 407.3L758.1 409.3L751.0 409.3L725.6 409.3L740.1 407.3L751.0 406.0L759.0 405.3L783.2 403.3Z" fill="#ffa500" stroke="#ffa500" stroke-width="0.4"/>
<path d="M153.5 315.0L153.5 314.4L213.2 314.4L273.0 314.2L332.8 313.8L392.5 313.8L452.2 313.5L512.0 313.4L571.8 313.4L631.5 313.4L691.2 313.4L751.0 313.4L810.8 313.4L870.5 313.4L870.5 315.0L870.5 317.0L870.5 317.8L810.8 317.8L751.0 317.8L691.2 317.8L631.5 317.8L571.8 317.8L512.0 317.8L452.2 317.8L392.5 317.9L332.8 317.9L273.0 318.1L213.2 318.1L153.5 318.1L153.5 317.0ZM210.9 389.2L213.2 389.0L229.5 389.2L273.0 389.8L332.8 390.8L364.0 391.2L392.5 391.6L407.9 393.2L428.3 395.3L449.7 397.3L452.2 397.5L458.2 399.3L464.3 401.3L468.6 403.3L472.0 405.3L475.4 407.3L478.7 409.3L469.5 409.3L466.1 407.3L462.7 405.3L459.2 403.3L454.7 401.3L452.2 400.5L437.6 399.3L417.4 397.3L396.9 395.3L392.5 394.8L332.8 394.4L273.0 393.4L248.8 393.2L213.2 393.0L211.6 393.2L200.8 395.3L193.0 397.3L188.0 399.3L183.8 401.3L180.3 403.3L177.2 405.3L174.5 407.3L172.2 409.3L160.0 409.3L161.5 407.3L163.3 405.3L165.3 403.3L167.7 401.3L170.5 399.3L173.8 397.3L178.7 395.3L185.5 393.2L195.4 391.2ZM787.6 399.3L810.8 397.8L870.5 397.8L870.5 399.3L870.5 401.2L810.8 401.2L810.4 401.3L783.2 403.3L759.0 405.3L751.0 406.0L740.1 407.3L725.6 409.3L694.8 409.3L706.4 407.3L720.5 405.3L737.7 403.3L751.0 402.0L760.1 401.3Z" fill="#ff9e00" stroke="#ff9e00" stroke-width="0.4"/>
<path d="M153.5 319.0L153.5 318.1L213.2 318.1L273.0 318.1L332.8 317.9L392.5 317.9L452.2 317.8L512.0 317.8L571.8 317.8L631.5 317.8L691.2 317.8L751.0 317.8L810.8 317.8L870.5 317.8L870.5 319.0L870.5 321.0L870.5 321.6L810.8 321.6L751.0 321.6L691.2 321.6L631.5 321.6L571.8 321.6L512.0 321.6L452.2 321.6L392.5 321.6L332.8 321.6L273.0 321.6L213.2 321.6L153.5 321.6L153.5 321.0ZM204.6 385.2L213.2 384.6L242.9 385.2L273.0 385.8L332.8 387.2L334.4 387.2L392.5 388.2L400.3 389.2L417.9 391.2L437.8 393.2L452.2 394.6L454.9 395.3L462.2 397.3L468.4 399.3L474.0 401.3L478.0 403.3L481.3 405.3L484.6 407.3L487.9 409.3L478.7 409.3L475.4 407.3L472.0 405.3L468.6 403.3L464.3 401.3L458.2 399.3L452.2 397.5L449.7 397.3L428.3 395.3L407.9 393.2L392.5 391.6L364.0 391.2L332.8 390.8L273.0 389.8L229.5 389.2L213.2 389.0L210.9 389.2L195.4 391.2L185.5 393.2L178.7 395.3L173.8 397.3L170.5 399.3L167.7 401.3L165.3 403.3L163.3 405.3L161.5 407.3L160.0 409.3L153.5 409.3L153.5 407.3L153.5 405.3L153.5 403.3L153.5 401.3L153.5 399.3L153.5 398.5L154.5 397.3L156.6 395.3L159.5 393.2L163.6 391.2L170.0 389.2L181.5 387.2ZM809.9 395.3L810.8 395.2L870.5 395.1L870.5 395.3L870.5 397.3L870.5 397.8L810.8 397.8L787.6 399.3L760.1 401.3L751.0 402.0L737.7 403.3L720.5 405.3L706.4 407.3L694.8 409.3L691.2 409.3L682.3 409.3L685.4 407.3L688.8 405.3L691.2 404.0L696.2 403.3L712.6 401.3L733.9 399.3L751.0 398.3L769.0 397.3Z" fill="#ff9600" stroke="#ff9600" stroke-width="0.4"/>
<path d="M153.5 323.0L153.5 321.6L213.2 321.6L273.0 321.6L332.8 321.6L392.5 321.6L452.2 321.6L512.0 321.6L571.8 321.6L631.5 321.6L691.2 321.6L751.0 321.6L810.7 321.6L870.5 321.6L870.5 323.0L870.5 324.8L810.8 324.8L751.0 324.8L691.2 324.8L631.5 324.8L571.8 324.8L512.0 324.8L452.2 324.8L392.5 324.8L332.8 324.8L273.0 324.8L213.2 324.8L153.5 324.8ZM186.8 381.2L213.3 379.8L265.3 381.2L273.0 381.4L320.4 383.2L332.8 383.6L392.5 384.6L397.1 385.2L412.1 387.2L427.4 389.2L446.5 391.2L452.2 391.8L458.6 393.2L466.4 395.3L472.9 397.3L478.6 399.3L483.6 401.3L487.4 403.3L490.7 405.3L493.9 407.3L497.1 409.3L487.9 409.3L484.6 407.3L481.3 405.3L478.0 403.3L474.0 401.3L468.4 399.3L462.2 397.3L454.9 395.3L452.2 394.6L437.8 393.2L417.9 391.2L400.3 389.2L392.5 388.2L334.4 387.2L332.8 387.2L273.0 385.8L242.9 385.2L213.2 384.6L204.6 385.2L181.5 387.2L170.0 389.2L163.6 391.2L159.5 393.2L156.6 395.3L154.5 397.3L153.5 398.5L153.5 397.3L153.5 395.3L153.5 393.2L153.5 391.2L153.5 389.2L153.5 387.2L153.5 385.2L153.5 383.7L158.7 383.2ZM767.0 395.3L810.8 393.7L870.5 393.4L870.5 395.1L810.7 395.2L809.9 395.3L769.0 397.3L751.0 398.3L733.9 399.3L712.6 401.3L696.2 403.3L691.2 404.0L688.8 405.3L685.4 407.3L682.3 409.3L672.2 409.3L674.7 407.3L677.6 405.3L680.8 403.3L684.4 401.3L688.4 399.3L691.2 398.4L709.5 397.3L751.0 396.0Z" fill="#ff9100" stroke="#ff9100" stroke-width="0.4"/>
<path d="M153.5 325.0L153.5 324.8L213.2 324.8L273.0 324.8L332.8 324.8L392.5 324.8L452.2 324.8L512.0 324.8L571.8 324.8L631.5 324.8L691.2 324.8L751.0 324.8L810.8 324.8L870.5 324.8L870.5 325.0L870.5 327.0L870.5 328.0L810.8 328.0L751.0 328.0L691.2 328.0L631.5 328.0L571.8 328.0L512.0 328.0L452.2 328.0L392.5 328.0L332.8 328.0L273.0 328.0L213.2 328.0L153.5 328.0L153.5 327.0ZM207.9 375.2L213.2 375.0L217.6 375.2L273.0 377.0L276.2 377.2L314.4 379.2L332.8 380.0L392.5 381.0L394.1 381.2L409.0 383.2L424.0 385.2L439.0 387.2L452.2 388.9L453.5 389.2L462.8 391.2L470.9 393.2L478.0 395.3L483.7 397.3L488.7 399.3L493.2 401.3L496.8 403.3L500.0 405.3L503.2 407.3L506.3 409.3L497.1 409.3L493.9 407.3L490.7 405.3L487.4 403.3L483.6 401.3L478.6 399.3L472.9 397.3L466.4 395.3L458.6 393.2L452.2 391.8L446.5 391.2L427.4 389.2L412.1 387.2L397.1 385.2L392.5 384.6L332.8 383.6L320.4 383.2L273.0 381.4L265.3 381.2L213.2 379.8L186.8 381.2L158.7 383.2L153.5 383.7L153.5 383.2L153.5 381.2L153.5 379.2L153.5 377.2L153.5 377.1ZM771.3 393.2L810.8 392.1L870.5 391.6L870.5 393.2L870.5 393.4L810.8 393.7L767.0 395.3L751.0 396.0L709.5 397.3L691.2 398.4L688.4 399.3L684.4 401.3L680.8 403.3L677.6 405.3L674.7 407.3L672.2 409.3L662.0 409.3L664.1 407.3L666.4 405.3L668.9 403.3L671.7 401.3L675.0 399.3L680.5 397.3L691.2 395.3L693.9 395.3L751.0 394.0Z" fill="#ff8c00" stroke="#ff8c00" stroke-width="0.4"/>
<path d="M153.5 329.0L153.5 328.0L213.2 328.0L273.0 328.0L332.8 328.0L392.5 328.0L452.2 328.0L512.0 328.0L571.8 328.0L631.5 328.0L691.2 328.0L751.0 328.0L810.8 328.0L870.5 328.0L870.5 329.0L870.5 331.0L810.8 331.0L751.0 331.0L691.2 331.0L631.5 331.0L571.8 331.0L512.0 331.0L452.2 331.0L392.5 331.0L332.8 331.0L273.0 331.0L213.2 331.0L153.5 331.0ZM153.5 373.2L153.5 372.5L213.2 371.4L266.5 373.2L273.0 373.4L308.6 375.2L332.8 376.4L392.5 377.0L393.8 377.2L407.1 379.2L420.9 381.2L435.9 383.2L450.9 385.2L452.2 385.4L461.4 387.2L468.9 389.2L475.9 391.2L483.1 393.2L489.5 395.3L494.5 397.3L498.9 399.3L502.8 401.3L506.2 403.3L509.3 405.3L512.0 407.0L513.1 407.3L519.9 409.3L512.0 409.3L506.3 409.3L503.2 407.3L500.0 405.3L496.8 403.3L493.2 401.3L488.7 399.3L483.7 397.3L478.0 395.3L470.9 393.2L462.8 391.2L453.5 389.2L452.2 388.9L439.0 387.2L424.0 385.2L409.0 383.2L394.1 381.2L392.5 381.0L332.8 380.0L314.4 379.2L276.2 377.2L273.0 377.0L217.6 375.2L213.2 375.0L207.9 375.2L153.5 377.1L153.5 375.2ZM778.6 391.2L810.8 390.6L870.5 389.9L870.5 391.2L870.5 391.6L810.8 392.1L771.3 393.2L751.0 394.0L693.9 395.3L691.2 395.3L680.5 397.3L675.0 399.3L671.7 401.3L668.9 403.3L666.4 405.3L664.1 407.3L662.0 409.3L651.9 409.3L653.4 407.3L655.1 405.3L657.0 403.3L659.1 401.3L661.5 399.3L665.5 397.3L673.6 395.3L686.2 393.2L691.2 392.7L751.0 392.0Z" fill="#ff8700" stroke="#ff8700" stroke-width="0.4"/>
<path d="M153.5 331.0L153.5 331.0L213.2 331.0L273.0 331.0L332.8 331.0L392.5 331.0L452.2 331.0L512.0 331.0L571.8 331.0L631.5 331.0L691.2 331.0L751.0 331.0L810.8 331.0L870.5 331.0L870.5 331.0L870.5 333.1L870.5 334.3L810.8 334.3L751.0 334.3L691.2 334.3L631.5 334.3L571.8 334.3L512.0 334.3L452.2 334.3L392.5 334.3L332.8 334.3L273.0 334.3L213.2 334.3L153.5 334.3L153.5 333.1ZM153.5 369.2L153.5 367.6L213.2 367.8L254.2 369.2L273.0 369.8L300.4 371.2L332.8 372.8L392.5 373.0L394.3 373.2L408.5 375.2L420.4 377.2L433.7 379.2L447.8 381.2L452.2 381.8L463.0 383.2L472.9 385.2L479.5 387.2L484.3 389.2L489.0 391.2L495.4 393.2L501.0 395.3L505.3 397.3L509.1 399.3L512.0 401.0L513.6 401.3L523.5 403.3L530.8 405.3L536.3 407.3L540.6 409.3L519.9 409.3L513.1 407.3L512.0 407.0L509.3 405.3L506.2 403.3L502.8 401.3L498.9 399.3L494.5 397.3L489.5 395.3L483.1 393.2L475.9 391.2L468.9 389.2L461.4 387.2L452.2 385.4L450.9 385.2L435.9 383.2L420.9 381.2L407.1 379.2L393.8 377.2L392.5 377.0L332.8 376.4L308.6 375.2L273.0 373.4L266.5 373.2L213.2 371.4L153.5 372.5L153.5 371.2ZM843.9 387.2L870.5 386.0L870.5 387.2L870.5 389.2L870.5 389.9L810.8 390.6L778.6 391.2L751.0 392.0L691.2 392.7L686.2 393.2L673.6 395.3L665.5 397.3L661.5 399.3L659.1 401.3L657.0 403.3L655.1 405.3L653.4 407.3L651.9 409.3L641.8 409.3L642.8 407.3L643.9 405.3L645.1 403.3L646.5 401.3L648.1 399.3L650.6 397.3L655.5 395.3L663.1 393.2L676.4 391.2L691.2 389.6L751.0 389.5L774.2 389.2L810.8 388.5Z" fill="#ff8100" stroke="#ff8100" stroke-width="0.4"/>
<path d="M153.5 335.1L153.5 334.3L213.2 334.3L273.0 334.3L332.8 334.3L392.5 334.3L452.2 334.3L512.0 334.3L571.8 334.3L631.5 334.3L691.2 334.3L751.0 334.3L810.8 334.3L870.5 334.3L870.5 335.1L870.5 337.1L870.5 339.1L870.5 341.1L870.5 343.1L870.5 345.1L870.5 347.1L870.5 349.1L870.5 351.1L870.5 353.1L870.5 355.1L870.5 357.1L870.5 359.1L870.5 361.1L870.5 363.1L870.5 365.2L870.5 367.2L870.5 369.2L870.5 371.2L870.5 373.2L870.5 375.2L870.5 377.2L870.5 379.2L870.5 381.2L870.5 383.2L870.5 385.2L870.5 386.0L843.9 387.2L810.8 388.5L774.2 389.2L751.0 389.5L691.2 389.6L676.4 391.2L663.1 393.2L655.5 395.3L650.6 397.3L648.1 399.3L646.5 401.3L645.1 403.3L643.9 405.3L642.8 407.3L641.8 409.3L631.7 409.3L632.1 407.3L632.7 405.3L633.2 403.3L633.9 401.3L634.6 399.3L635.6 397.3L637.3 395.3L639.9 393.2L644.5 391.2L651.5 389.2L657.8 387.2L667.4 385.2L683.0 383.2L691.2 382.5L751.0 382.0L810.8 382.1L833.7 381.2L870.5 379.2L870.5 377.2L870.5 375.2L870.5 373.2L870.5 371.2L870.5 369.2L870.5 367.2L870.5 365.2L870.5 363.1L870.5 361.1L870.5 359.1L870.5 357.1L870.5 355.1L870.5 353.1L870.5 351.1L870.5 349.1L870.5 347.1L870.5 345.1L870.5 343.1L870.5 341.1L810.8 340.6L751.0 340.3L691.2 340.3L631.5 340.1L571.8 340.1L512.0 340.1L452.2 340.3L392.5 340.3L332.8 340.3L273.0 340.6L213.2 341.1L213.2 343.1L213.2 345.1L213.2 347.1L213.2 349.1L213.2 351.1L213.2 353.1L213.2 355.1L213.2 357.1L213.2 359.1L213.2 361.1L232.6 363.1L264.1 365.2L273.0 365.5L298.1 367.2L332.8 369.0L392.5 369.0L397.2 369.2L423.6 371.2L432.9 373.2L437.7 375.2L446.9 377.2L452.2 378.0L468.6 379.2L482.8 381.2L490.2 383.2L494.6 385.2L497.5 387.2L499.7 389.2L502.1 391.2L507.7 393.2L512.0 395.0L515.4 395.3L533.6 397.3L543.4 399.3L549.6 401.3L553.9 403.3L557.0 405.3L559.4 407.3L561.2 409.3L540.6 409.3L536.3 407.3L530.8 405.3L523.5 403.3L513.6 401.3L512.0 401.0L509.1 399.3L505.3 397.3L501.0 395.3L495.4 393.2L489.0 391.2L484.3 389.2L479.5 387.2L472.9 385.2L463.0 383.2L452.2 381.8L447.8 381.2L433.7 379.2L420.4 377.2L408.5 375.2L394.3 373.2L392.5 373.0L332.8 372.8L300.4 371.2L273.0 369.8L254.2 369.2L213.2 367.8L153.5 367.6L153.5 367.2L153.5 365.2L153.5 363.1L153.5 361.1L153.5 359.1L153.5 357.1L153.5 355.1L153.5 353.1L153.5 351.1L153.5 349.1L153.5 347.1L153.5 345.1L153.5 343.1L153.5 341.1L153.5 339.1L153.5 337.1Z" fill="#ff7a00" stroke="#ff7a00" stroke-width="0.4"/>
<path d="M213.2 341.1L273.0 340.6L332.8 340.3L392.5 340.3L452.2 340.3L512.0 340.1L571.8 340.1L631.5 340.1L691.2 340.3L751.0 340.3L810.8 340.6L870.5 341.1L870.5 343.1L870.5 345.1L870.5 347.1L870.5 349.1L870.5 351.1L870.5 353.1L870.5 355.1L870.5 357.1L870.5 359.1L870.5 361.1L870.5 363.1L870.5 365.2L870.5 367.2L870.5 369.2L870.5 371.2L870.5 373.2L870.5 375.2L870.5 377.2L870.5 379.2L833.7 381.2L810.8 382.1L751.0 382.0L691.2 382.5L683.0 383.2L667.4 385.2L657.8 387.2L651.5 389.2L644.5 391.2L639.9 393.2L637.3 395.3L635.6 397.3L634.6 399.3L633.9 401.3L633.2 403.3L632.7 405.3L632.1 407.3L631.7 409.3L631.5 409.3L571.8 409.3L561.2 409.3L559.4 407.3L557.0 405.3L553.9 403.3L549.6 401.3L543.4 399.3L533.6 397.3L515.4 395.3L512.0 395.0L507.7 393.2L502.1 391.2L499.7 389.2L497.5 387.2L494.6 385.2L490.2 383.2L482.8 381.2L468.6 379.2L452.2 378.0L446.9 377.2L437.7 375.2L432.9 373.2L423.6 371.2L397.2 369.2L392.5 369.0L332.8 369.0L298.1 367.2L273.0 365.5L264.1 365.2L232.6 363.1L213.2 361.1L213.2 359.1L213.2 357.1L213.2 355.1L213.2 353.1L213.2 351.1L213.2 349.1L213.2 347.1L213.2 345.1L213.2 343.1Z" fill="#ff7400" stroke="#ff7400" stroke-width="0.4"/>
<path d="M153.5 146.2L194.1 144.4L210.8 142.4L213.2 142.3L273.0 141.3L313.1 140.4L332.8 140.1L385.8 138.4L392.5 138.2L452.2 137.3L512.0 137.3L571.8 137.5L631.5 137.6L668.0 136.4L691.2 135.6L705.3 134.4L727.3 132.4L732.0 130.4L734.9 128.4L737.8 126.4L740.7 124.4L743.5 122.4L746.3 120.4L749.1 118.4L751.0 118.0L754.2 118.4L773.0 120.4L810.8 121.9L813.7 122.4L818.2 124.4L828.8 126.4L870.5 128.3M870.5 165.0L810.8 165.0L772.0 166.5L751.0 167.7L691.2 167.7L631.5 167.3L571.8 167.3L512.0 167.3L452.2 167.3L392.5 166.8L332.8 166.8L273.0 167.7L259.4 168.5L228.3 170.5L213.2 172.3L153.5 172.3M153.5 202.7L213.2 202.7L273.0 202.7L332.8 202.7L392.5 202.7L452.2 202.7L512.0 202.7L571.8 202.7L631.5 202.7L691.2 202.7L751.0 202.7L810.8 202.7L870.5 202.7M153.5 153.3L213.2 153.0L219.9 152.5L242.1 150.5L261.0 148.5L273.0 147.4L303.3 146.4L332.8 145.6L392.5 145.4L437.8 144.4L452.2 144.2L512.0 144.2L517.4 144.4L555.1 146.4L571.8 147.1L631.5 148.1L691.2 147.5L751.0 146.7L810.8 146.5L835.5 146.4L870.5 146.4M870.5 160.2L810.7 160.3L790.5 160.5L751.0 160.8L691.2 160.8L631.5 160.8L571.8 160.8L512.0 160.7L452.2 160.7L392.5 160.7L332.8 160.7L273.0 160.8L242.8 162.5L217.8 164.5L213.2 164.8L153.5 165.7M153.5 204.6L213.2 204.6L273.0 204.6L332.8 204.6L392.5 204.6L452.2 204.6L512.0 204.6L571.8 204.6L631.5 204.6L691.2 204.6L751.0 204.6L810.8 204.6L870.5 204.6M153.5 206.1L213.2 206.1L273.0 206.1L332.8 206.1L392.5 206.1L452.2 206.1L512.0 206.1L571.8 206.1L631.5 206.1L691.2 206.1L751.0 206.1L810.8 206.1L870.5 206.1M153.5 207.7L213.2 207.7L273.0 207.7L332.8 207.7L392.5 207.7L452.2 207.7L512.0 207.7L571.8 207.7L631.5 207.7L691.2 207.7L751.0 207.7L810.8 207.7L870.5 207.7M153.5 209.3L213.2 209.3L273.0 209.3L332.8 209.3L392.5 209.3L452.2 209.3L512.0 209.3L571.8 209.3L631.5 209.3L691.2 209.3L751.0 209.3L810.8 209.3L870.5 209.3M153.5 210.9L213.2 210.9L273.0 210.9L332.7 210.9L392.5 210.9L452.2 210.9L512.0 210.9L571.7 210.9L631.5 210.9L691.2 210.9L751.0 210.9L810.7 210.9L870.5 210.9M153.5 212.4L213.2 212.4L273.0 212.4L332.8 212.4L392.5 212.4L452.2 212.4L512.0 212.4L571.8 212.4L631.5 212.4L691.2 212.4L751.0 212.4L810.8 212.4L870.5 212.4M153.5 214.0L213.2 214.0L273.0 214.0L332.8 214.0L392.5 214.0L452.2 214.0L512.0 214.0L571.8 214.0L631.5 214.0L691.2 214.0L751.0 214.0L810.8 214.0L870.5 214.0M153.5 215.6L213.2 215.6L273.0 215.6L332.8 215.5L392.5 215.5L452.2 215.5L512.0 215.5L571.8 215.5L631.5 215.5L691.2 215.5L751.0 215.5L810.8 215.5L870.5 215.5M153.5 217.1L213.2 217.1L273.0 217.1L332.8 217.1L392.5 217.1L452.2 217.0L512.0 217.0L571.8 217.0L631.5 217.0L691.2 217.0L751.0 217.0L810.8 217.0L870.5 217.0M153.5 218.7L213.2 218.7L273.0 218.7L279.6 218.7L332.8 218.6L392.5 218.6L452.2 218.6L512.0 218.5L571.8 218.5L631.5 218.5L691.2 218.5L751.0 218.5L810.8 218.5L870.5 218.5M153.5 220.3L213.2 220.3L273.0 220.2L332.8 220.2L392.5 220.2L452.2 220.1L512.0 220.1L571.8 220.0L631.5 220.0L691.2 220.0L751.0 220.0L810.8 220.0L870.5 220.0M153.5 221.9L213.2 221.9L273.0 221.8L332.8 221.7L392.5 221.7L452.2 221.6L512.0 221.6L571.8 221.5L631.5 221.5L691.2 221.5L751.0 221.5L810.8 221.5L870.5 221.5M153.5 223.4L213.2 223.4L273.0 223.4L332.8 223.2L392.5 223.2L452.2 223.1L512.0 223.1L571.8 223.0L631.5 223.0L691.2 223.0L751.0 223.0L810.8 223.0L870.5 223.0M153.5 225.0L213.2 225.0L273.0 224.9L332.8 224.8L392.5 224.8L419.5 224.7L452.2 224.6L512.0 224.6L571.8 224.6L631.5 224.6L691.2 224.6L751.0 224.6L810.8 224.6L870.5 224.6M153.5 226.6L213.2 226.6L273.0 226.5L332.8 226.3L392.5 226.3L452.2 226.1L512.0 226.1L571.8 226.1L631.5 226.1L691.2 226.1L751.0 226.1L810.8 226.1L870.5 226.1M153.5 228.2L213.2 228.2L273.0 228.1L332.8 227.8L392.5 227.8L452.2 227.7L512.0 227.6L571.8 227.6L631.5 227.6L691.2 227.6L751.0 227.6L810.8 227.6L870.5 227.6M153.5 229.8L213.2 229.8L273.0 229.6L332.8 229.4L392.5 229.4L452.2 229.2L512.0 229.1L571.8 229.1L631.5 229.1L691.2 229.1L751.0 229.1L810.8 229.1L870.5 229.1M153.5 231.3L213.2 231.3L273.0 231.2L332.8 230.9L392.5 230.9L445.2 230.7L452.2 230.7L512.0 230.6L571.8 230.6L631.5 230.6L691.2 230.6L751.0 230.6L810.8 230.6L870.5 230.6M153.5 232.9L213.3 232.9L273.0 232.7L277.9 232.7L332.8 232.4L392.5 232.4L452.2 232.2L512.0 232.2L571.8 232.1L631.5 232.1L691.2 232.1L751.0 232.1L810.8 232.1L870.5 232.1M153.5 234.5L213.2 234.5L273.0 234.3L332.8 234.0L392.5 234.0L452.2 233.7L512.0 233.7L571.8 233.6L631.5 233.6L691.2 233.6L751.0 233.6L810.8 233.6L870.5 233.6M153.5 236.1L213.2 236.1L273.0 235.9L332.8 235.5L392.5 235.5L452.2 235.2L512.0 235.2L571.8 235.1L631.5 235.1L691.2 235.1L751.0 235.1L810.8 235.1L870.5 235.1M153.5 237.6L213.2 237.6L273.0 237.4L332.8 237.1L392.5 237.1L452.2 236.8L471.8 236.7L512.0 236.7L571.8 236.6L631.5 236.6L691.2 236.6L751.0 236.6L810.8 236.6L870.5 236.6M153.5 239.2L213.2 239.2L273.0 239.0L311.0 238.7L332.8 238.6L392.5 238.6L452.2 238.3L512.0 238.2L571.8 238.1L631.5 238.1L691.2 238.1L751.0 238.1L810.8 238.1L870.5 238.1M153.5 240.8L213.2 240.8L220.0 240.8L273.0 240.6L332.8 240.1L392.5 240.1L452.2 239.8L512.0 239.7L571.8 239.6L631.5 239.6L691.2 239.6L751.0 239.6L810.8 239.6L870.5 239.6M153.5 242.3L213.2 242.3L273.0 242.1L332.8 241.7L392.5 241.7L452.2 241.3L512.0 241.2L571.8 241.1L631.5 241.1L691.2 241.1L751.0 241.1L810.8 241.1L870.5 241.1M153.5 243.9L213.2 243.9L273.0 243.7L332.8 243.2L392.5 243.2L452.2 242.8L499.4 242.8L512.0 242.7L571.8 242.6L631.5 242.6L691.2 242.6L751.0 242.6L810.8 242.6L870.5 242.6M153.5 245.5L213.2 245.5L273.0 245.2L331.0 244.8L332.8 244.8L392.5 244.8L452.2 244.3L512.0 244.2L571.8 244.2L631.5 244.2L691.2 244.2L751.0 244.2L810.8 244.2L870.5 244.2M153.5 247.1L213.2 247.1L273.0 246.8L277.7 246.8L332.8 246.3L392.5 246.3L452.2 245.9L512.0 245.8L571.8 245.7L631.5 245.7L691.2 245.7L751.0 245.7L810.8 245.7L870.5 245.7M153.5 248.7L213.2 248.7L273.0 248.4L332.8 247.8L392.5 247.8L452.2 247.4L512.0 247.3L571.8 247.2L631.5 247.2L691.2 247.2L751.0 247.2L810.8 247.2L870.5 247.2M153.5 250.2L213.2 250.2L273.0 249.9L332.8 249.4L392.5 249.4L452.2 248.9L512.0 248.8L517.4 248.8L571.8 248.7L631.5 248.7L691.2 248.7L751.0 248.7L810.8 248.7L870.5 248.7M153.5 251.8L213.2 251.8L273.0 251.5L332.8 250.9L392.5 250.9L406.8 250.8L452.2 250.4L512.0 250.3L571.8 250.2L631.5 250.2L691.2 250.2L751.0 250.2L810.8 250.2L870.5 250.2M153.5 253.4L213.2 253.4L273.0 253.1L298.8 252.8L332.8 252.4L392.5 252.4L452.2 251.9L512.0 251.8L571.8 251.7L631.5 251.7L691.2 251.7L751.0 251.7L810.8 251.7L870.5 251.7M153.5 255.0L213.2 255.0L241.3 254.8L273.0 254.6L332.8 254.0L392.5 254.0L452.3 253.5L512.0 253.3L571.8 253.2L631.5 253.2L691.2 253.2L751.0 253.2L810.8 253.2L870.5 253.2M153.5 256.5L213.2 256.5L273.0 256.2L332.8 255.5L392.5 255.5L452.2 255.0L512.0 254.8L530.0 254.8L571.8 254.7L631.5 254.7L691.2 254.7L751.0 254.7L810.8 254.7L870.5 254.7M153.5 258.1L213.2 258.1L273.0 257.8L332.8 257.1L392.5 257.1L418.6 256.8L452.2 256.5L512.0 256.4L571.8 256.2L631.5 256.2L691.2 256.2L751.0 256.2L810.8 256.2L870.5 256.2M153.5 259.7L213.2 259.7L273.0 259.3L314.2 258.8L332.8 258.6L392.5 258.6L452.2 258.0L512.0 257.9L571.8 257.7L631.5 257.7L691.2 257.7L751.0 257.7L810.8 257.7L870.5 257.7M153.5 261.2L213.3 261.2L273.0 260.9L277.6 260.8L332.8 260.1L392.5 260.1L452.2 259.5L512.0 259.4L571.8 259.2L631.5 259.2L691.2 259.2L751.0 259.2L810.8 259.2L870.5 259.2M153.5 262.8L213.2 262.8L213.6 262.8L273.0 262.4L332.8 261.7L392.5 261.7L452.2 261.0L512.0 260.9L539.4 260.8L571.8 260.7L631.5 260.7L691.2 260.7L751.0 260.7L810.8 260.7L870.5 260.7M153.5 264.4L213.2 264.4L273.0 264.0L332.8 263.2L392.5 263.2L427.5 262.8L452.2 262.6L512.0 262.4L571.8 262.2L631.5 262.2L691.2 262.2L751.0 262.2L810.8 262.2L870.5 262.2M153.5 266.0L213.2 266.0L273.0 265.6L326.0 264.8L332.8 264.7L392.5 264.7L452.2 264.1L512.0 263.9L571.8 263.7L631.5 263.7L691.2 263.7L751.0 263.7L810.8 263.7L870.5 263.7M153.5 267.6L213.2 267.6L273.0 267.1L293.1 266.8L332.8 266.3L392.5 266.3L452.2 265.6L512.0 265.4L571.8 265.3L631.5 265.3L691.2 265.3L751.0 265.3L810.8 265.3L870.5 265.3M153.5 269.1L213.2 269.1L251.7 268.8L273.0 268.7L332.8 267.8L392.5 267.8L452.2 267.1L512.0 266.9L546.6 266.8L571.8 266.8L631.5 266.8L691.2 266.8L751.0 266.8L810.8 266.8L870.5 266.8M153.5 270.7L213.2 270.7L273.0 270.2L332.8 269.4L392.5 269.4L434.5 268.8L452.2 268.6L512.0 268.4L571.8 268.3L631.5 268.3L691.2 268.3L751.0 268.3L810.8 268.3L870.5 268.3M153.5 272.3L213.2 272.3L273.0 271.8L332.8 270.9L392.5 270.9L395.6 270.8L452.2 270.1L512.0 270.0L571.8 269.8L631.5 269.8L691.2 269.8L751.0 269.8L810.8 269.8L870.5 269.8M153.5 273.9L213.2 273.9L273.0 273.4L305.4 272.9L332.8 272.4L392.5 272.4L452.2 271.7L512.0 271.5L571.8 271.3L631.5 271.3L691.2 271.3L751.0 271.3L810.8 271.3L870.5 271.3M153.5 275.4L213.2 275.4L273.0 274.9L277.6 274.9L332.8 274.0L392.5 274.0L452.2 273.2L512.0 273.0L552.4 272.9L571.8 272.8L631.5 272.8L691.2 272.8L751.0 272.8L810.8 272.8L870.5 272.8M153.5 277.0L213.2 277.0L228.9 276.9L273.0 276.5L332.8 275.5L392.5 275.5L440.4 274.9L452.2 274.7L512.0 274.5L571.8 274.3L631.5 274.3L691.2 274.3L751.0 274.3L810.8 274.3L870.5 274.3M153.5 278.6L213.2 278.6L273.0 278.1L332.8 277.1L392.5 277.1L407.9 276.9L452.2 276.3L512.0 276.1L571.8 275.9L631.5 275.9L691.2 275.9L751.0 275.9L810.8 275.9L870.5 275.9M153.5 280.1L213.2 280.1L273.0 279.6L319.3 278.9L332.8 278.7L392.5 278.7L452.2 277.9L512.0 277.6L571.8 277.4L631.5 277.4L691.2 277.4L751.0 277.4L810.8 277.4L870.5 277.4M153.5 281.7L213.2 281.7L273.0 281.2L293.5 280.9L332.8 280.2L392.5 280.2L452.2 279.4L512.0 279.2L571.8 279.0L631.5 279.0L691.3 279.0L751.0 279.0L810.8 279.0L870.5 279.0M153.5 283.3L213.2 283.3L262.5 282.9L273.0 282.8L332.8 281.8L392.5 281.8L452.2 281.0L487.6 280.9L512.0 280.8L571.8 280.6L631.5 280.6L691.2 280.6L751.0 280.6L810.8 280.6L870.5 280.6M153.5 284.9L213.2 284.9L273.0 284.4L332.8 283.4L392.5 283.4L428.9 282.9L452.2 282.6L512.0 282.4L571.8 282.2L631.5 282.2L691.2 282.2L751.0 282.2L810.8 282.2L870.5 282.2M153.5 286.4L213.2 286.4L273.0 286.0L332.8 285.0L392.5 285.0L396.6 284.9L452.2 284.1L512.0 284.0L571.8 283.8L631.5 283.8L691.2 283.8L751.0 283.8L810.8 283.8L870.5 283.8M153.5 288.0L213.2 288.0L273.0 287.5L310.3 286.9L332.8 286.5L392.5 286.5L452.2 285.7L512.0 285.5L571.8 285.3L631.5 285.3L691.2 285.3L751.0 285.3L810.8 285.3L870.5 285.3M153.5 289.9L213.2 289.9L273.0 289.3L292.2 288.9L332.8 288.4L392.5 288.4L452.2 287.6L512.0 287.3L571.6 286.9L571.8 286.9L631.5 286.9L691.2 286.9L751.0 286.9L810.8 286.9L870.5 286.9M153.5 292.7L213.2 292.7L273.0 292.2L332.8 291.2L392.5 291.2L416.3 290.9L452.2 290.4L512.0 290.2L571.8 290.0L631.5 290.0L691.2 290.0L751.0 290.0L810.8 290.0L870.5 290.0M153.5 295.9L213.2 295.9L273.0 295.4L299.2 294.9L332.8 294.4L392.5 294.4L452.2 293.6L512.0 293.4L571.8 293.2L631.5 293.2L691.2 293.2L751.0 293.2L810.8 293.2L870.5 293.2M153.5 299.0L213.2 299.0L220.2 298.9L273.0 298.5L332.8 297.5L392.5 297.5L435.2 296.9L452.2 296.7L512.0 296.5L571.8 296.3L631.5 296.3L691.2 296.3L751.0 296.3L810.8 296.3L870.5 296.3M153.5 302.0L213.2 302.0L273.0 301.6L314.4 300.9L332.8 300.7L392.5 300.7L452.2 300.0L512.0 299.8L571.8 299.6L631.5 299.6L691.2 299.6L751.0 299.6L810.8 299.6L870.5 299.6M153.5 305.0L213.2 305.0L219.5 305.0L273.0 304.6L332.8 303.8L392.5 303.8L452.2 303.2L512.0 303.1L551.3 303.0L571.8 302.9L631.5 302.9L691.2 302.9L751.0 302.9L810.8 302.9L870.5 302.9M406.7 409.3L392.5 407.6L332.8 407.6L273.0 407.4L213.2 407.4L208.8 409.3M153.5 308.0L213.2 308.0L273.0 307.7L332.7 307.0L392.5 307.0L396.3 307.0L452.2 306.5L512.0 306.3L571.8 306.2L631.5 306.2L691.2 306.2L751.0 306.2L810.8 306.2L870.5 306.2M447.0 409.3L431.2 407.3L414.6 405.3L396.9 403.3L392.5 402.8L332.8 402.8L273.0 402.2L213.2 402.2L210.1 403.3L205.0 405.3L200.5 407.3L196.6 409.3M870.5 408.2L810.8 408.2L798.6 409.3M153.5 311.0L213.2 311.0L217.7 311.0L273.0 310.7L332.8 310.2L392.5 310.2L452.2 309.7L512.0 309.6L571.8 309.5L631.5 309.5L691.2 309.5L751.0 309.5L810.8 309.5L870.5 309.5M870.5 404.8L810.8 404.8L803.9 405.3L779.8 407.3L758.1 409.3M460.3 409.3L456.8 407.3L453.3 405.3L452.2 404.7L440.8 403.3L421.1 401.3L401.9 399.3L392.5 398.2L332.8 398.1L284.7 397.3L273.0 397.1L213.2 397.1L212.3 397.3L205.6 399.3L200.0 401.3L195.2 403.3L191.1 405.3L187.5 407.3L184.4 409.3M153.5 314.4L213.2 314.4L273.0 314.2L332.8 313.8L392.5 313.8L452.2 313.5L512.0 313.4L571.8 313.4L631.5 313.4L691.2 313.4L751.0 313.4L810.8 313.4L870.5 313.4M870.5 401.2L810.8 401.2L810.4 401.3L783.2 403.3L759.0 405.3L751.0 406.0L740.1 407.3L725.6 409.3M469.5 409.3L466.1 407.3L462.7 405.3L459.2 403.3L454.7 401.3L452.2 400.5L437.6 399.3L417.4 397.3L396.9 395.3L392.5 394.8L332.8 394.4L273.0 393.4L248.8 393.2L213.2 393.0L211.6 393.2L200.8 395.3L193.0 397.3L188.0 399.3L183.8 401.3L180.3 403.3L177.2 405.3L174.5 407.3L172.2 409.3M153.5 318.1L213.2 318.1L273.0 318.1L332.8 317.9L392.5 317.9L452.2 317.8L512.0 317.8L571.8 317.8L631.5 317.8L691.2 317.8L751.0 317.8L810.8 317.8L870.5 317.8M870.5 397.8L810.8 397.8L787.6 399.3L760.1 401.3L751.0 402.0L737.7 403.3L720.5 405.3L706.4 407.3L694.8 409.3M478.7 409.3L475.4 407.3L472.0 405.3L468.6 403.3L464.3 401.3L458.2 399.3L452.2 397.5L449.7 397.3L428.3 395.3L407.9 393.2L392.5 391.6L364.0 391.2L332.8 390.8L273.0 389.8L229.5 389.2L213.2 389.0L210.9 389.2L195.4 391.2L185.5 393.2L178.7 395.3L173.8 397.3L170.5 399.3L167.7 401.3L165.3 403.3L163.3 405.3L161.5 407.3L160.0 409.3M153.5 321.6L213.2 321.6L273.0 321.6L332.8 321.6L392.5 321.6L452.2 321.6L512.0 321.6L571.8 321.6L631.5 321.6L691.2 321.6L751.0 321.6L810.7 321.6L870.5 321.6M870.5 395.1L810.7 395.2L809.9 395.3L769.0 397.3L751.0 398.3L733.9 399.3L712.6 401.3L696.2 403.3L691.2 404.0L688.8 405.3L685.4 407.3L682.3 409.3M487.9 409.3L484.6 407.3L481.3 405.3L478.0 403.3L474.0 401.3L468.4 399.3L462.2 397.3L454.9 395.3L452.2 394.6L437.8 393.2L417.9 391.2L400.3 389.2L392.5 388.2L334.4 387.2L332.8 387.2L273.0 385.8L242.9 385.2L213.2 384.6L204.6 385.2L181.5 387.2L170.0 389.2L163.6 391.2L159.5 393.2L156.6 395.3L154.5 397.3L153.5 398.5M153.5 324.8L213.2 324.8L273.0 324.8L332.8 324.8L392.5 324.8L452.2 324.8L512.0 324.8L571.8 324.8L631.5 324.8L691.2 324.8L751.0 324.8L810.8 324.8L870.5 324.8M870.5 393.4L810.8 393.7L767.0 395.3L751.0 396.0L709.5 397.3L691.2 398.4L688.4 399.3L684.4 401.3L680.8 403.3L677.6 405.3L674.7 407.3L672.2 409.3M497.1 409.3L493.9 407.3L490.7 405.3L487.4 403.3L483.6 401.3L478.6 399.3L472.9 397.3L466.4 395.3L458.6 393.2L452.2 391.8L446.5 391.2L427.4 389.2L412.1 387.2L397.1 385.2L392.5 384.6L332.8 383.6L320.4 383.2L273.0 381.4L265.3 381.2L213.2 379.8L186.8 381.2L158.7 383.2L153.5 383.7M153.5 328.0L213.2 328.0L273.0 328.0L332.8 328.0L392.5 328.0L452.2 328.0L512.0 328.0L571.8 328.0L631.5 328.0L691.2 328.0L751.0 328.0L810.8 328.0L870.5 328.0M870.5 391.6L810.8 392.1L771.3 393.2L751.0 394.0L693.9 395.3L691.2 395.3L680.5 397.3L675.0 399.3L671.7 401.3L668.9 403.3L666.4 405.3L664.1 407.3L662.0 409.3M506.3 409.3L503.2 407.3L500.0 405.3L496.8 403.3L493.2 401.3L488.7 399.3L483.7 397.3L478.0 395.3L470.9 393.2L462.8 391.2L453.5 389.2L452.2 388.9L439.0 387.2L424.0 385.2L409.0 383.2L394.1 381.2L392.5 381.0L332.8 380.0L314.4 379.2L276.2 377.2L273.0 377.0L217.6 375.2L213.2 375.0L207.9 375.2L153.5 377.1M153.5 331.0L213.2 331.0L273.0 331.0L332.8 331.0L392.5 331.0L452.2 331.0L512.0 331.0L571.8 331.0L631.5 331.0L691.2 331.0L751.0 331.0L810.8 331.0L870.5 331.0M870.5 389.9L810.8 390.6L778.6 391.2L751.0 392.0L691.2 392.7L686.2 393.2L673.6 395.3L665.5 397.3L661.5 399.3L659.1 401.3L657.0 403.3L655.1 405.3L653.4 407.3L651.9 409.3M519.9 409.3L513.1 407.3L512.0 407.0L509.3 405.3L506.2 403.3L502.8 401.3L498.9 399.3L494.5 397.3L489.5 395.3L483.1 393.2L475.9 391.2L468.9 389.2L461.4 387.2L452.2 385.4L450.9 385.2L435.9 383.2L420.9 381.2L407.1 379.2L393.8 377.2L392.5 377.0L332.8 376.4L308.6 375.2L273.0 373.4L266.5 373.2L213.2 371.4L153.5 372.5M153.5 334.3L213.2 334.3L273.0 334.3L332.8 334.3L392.5 334.3L452.2 334.3L512.0 334.3L571.8 334.3L631.5 334.3L691.2 334.3L751.0 334.3L810.8 334.3L870.5 334.3M870.5 386.0L843.9 387.2L810.8 388.5L774.2 389.2L751.0 389.5L691.2 389.6L676.4 391.2L663.1 393.2L655.5 395.3L650.6 397.3L648.1 399.3L646.5 401.3L645.1 403.3L643.9 405.3L642.8 407.3L641.8 409.3M540.6 409.3L536.3 407.3L530.8 405.3L523.5 403.3L513.6 401.3L512.0 401.0L509.1 399.3L505.3 397.3L501.0 395.3L495.4 393.2L489.0 391.2L484.3 389.2L479.5 387.2L472.9 385.2L463.0 383.2L452.2 381.8L447.8 381.2L433.7 379.2L420.4 377.2L408.5 375.2L394.3 373.2L392.5 373.0L332.8 372.8L300.4 371.2L273.0 369.8L254.2 369.2L213.2 367.8L153.5 367.6M561.2 409.3L559.4 407.3L557.0 405.3L553.9 403.3L549.6 401.3L543.4 399.3L533.6 397.3L515.4 395.3L512.0 395.0L507.7 393.2L502.1 391.2L499.7 389.2L497.5 387.2L494.6 385.2L490.2 383.2L482.8 381.2L468.6 379.2L452.2 378.0L446.9 377.2L437.7 375.2L432.9 373.2L423.6 371.2L397.2 369.2L392.5 369.0L332.8 369.0L298.1 367.2L273.0 365.5L264.1 365.2L232.6 363.1L213.2 361.1L213.2 359.1L213.2 357.1L213.2 355.1L213.2 353.1L213.2 351.1L213.2 349.1L213.2 347.1L213.2 345.1L213.2 343.1L213.2 341.1L273.0 340.6L332.8 340.3L392.5 340.3L452.2 340.3L512.0 340.1L571.8 340.1L631.5 340.1L691.2 340.3L751.0 340.3L810.8 340.6L870.5 341.1L870.5 343.1L870.5 345.1L870.5 347.1L870.5 349.1L870.5 351.1L870.5 353.1L870.5 355.1L870.5 357.1L870.5 359.1L870.5 361.1L870.5 363.1L870.5 365.2L870.5 367.2L870.5 369.2L870.5 371.2L870.5 373.2L870.5 375.2L870.5 377.2L870.5 379.2L833.7 381.2L810.8 382.1L751.0 382.0L691.2 382.5L683.0 383.2L667.4 385.2L657.8 387.2L651.5 389.2L644.5 391.2L639.9 393.2L637.3 395.3L635.6 397.3L634.6 399.3L633.9 401.3L633.2 403.3L632.7 405.3L632.1 407.3L631.7 409.3" fill="none" stroke="#fff" stroke-opacity="0.35" stroke-width="0.5"/>
</g>
<defs><clipPath id="pc"><rect x="153.5" y="102.3" width="717.0" height="307.0"/></clipPath></defs>
<path clip-path="url(#pc)" d="M138.0 409.3L169.0 409.3M169.0 409.3l5.0 9.4M138.0 398.3L169.0 398.3M169.0 398.3l5.0 9.4M138.0 387.4L169.0 387.4M169.0 387.4l5.0 9.4M138.0 376.4L169.0 376.4M169.0 376.4l5.0 9.4M138.0 365.4L169.0 365.4M169.0 365.4l5.0 9.4M138.0 354.5L169.0 354.5M169.0 354.5l5.0 9.4M138.0 343.5L169.0 343.5M169.0 343.5l5.0 9.4M138.0 332.6L169.0 332.6M169.0 332.6l5.0 9.4M138.0 321.6L169.0 321.6M169.0 321.6l5.0 9.4M138.0 310.4L169.0 310.9M169.0 310.9l4.8 9.4M138.0 299.9L169.0 299.4M169.0 299.4l5.1 9.3M138.2 291.1L168.8 286.3M164.3 287.0l3.2 4.3M138.2 280.2L168.8 275.2M164.3 276.0l3.3 4.3M138.2 269.2L168.8 264.3M168.8 264.3l6.4 8.5M138.2 258.0L168.8 253.6M168.8 253.6l6.2 8.6M138.4 248.2L168.6 241.5M168.6 241.5l6.9 8.1M164.1 242.5l3.5 4.1M138.3 236.8L168.7 230.9M168.7 230.9l6.7 8.2M164.2 231.8l3.4 4.2M138.4 226.2L168.6 219.6M168.6 219.6l6.9 8.1M164.1 220.6l3.5 4.1M138.6 216.3L168.4 207.6M168.4 207.6l7.4 7.6M164.0 208.9l3.8 3.9M139.5 207.5L167.5 194.4M167.5 194.4l8.5 6.4M163.4 196.4l4.3 3.2M144.5 202.6L162.5 177.4M162.5 177.4l10.5 1.4M159.8 181.1l5.4 0.7M167.2 186.3L139.8 171.8M139.8 171.8l-0.0 -10.6M143.9 173.9l-0.0 -5.4M168.6 171.6L138.4 164.6M138.4 164.6l-2.7 -10.2M142.9 165.6l-1.4 -5.2M168.7 160.1L138.3 154.2M138.3 154.2l-3.1 -10.1M142.8 155.0l-1.6 -5.2M168.7 149.4L138.3 142.9M138.3 142.9l-2.9 -10.2M142.8 143.9l-1.5 -5.2M168.5 138.9L138.5 131.4M138.5 131.4l-2.6 -10.3M142.9 132.6l-1.3 -5.2M168.4 128.5L138.6 120.0M138.6 120.0l-2.2 -10.4M143.0 121.2l-1.1 -5.3M168.2 118.3L138.8 108.2M138.8 108.2l-1.7 -10.5M143.2 109.7l-0.8 -5.3M168.1 107.6L138.9 97.0M138.9 97.0l-1.5 -10.5M143.3 98.6l-0.8 -5.3M197.8 409.3L228.8 409.3M228.8 409.3l5.0 9.4M197.8 398.3L228.8 398.3M228.8 398.3l5.0 9.4M197.8 387.4L228.8 387.4M228.8 387.4l5.0 9.4M197.8 376.1L228.7 376.7M228.7 376.7l4.8 9.4M224.1 376.6l2.5 4.8M197.8 364.9L228.7 366.0M228.7 366.0l4.6 9.5M197.8 353.7L228.7 355.3M228.7 355.3l4.5 9.6M197.8 343.0L228.7 344.1M228.7 344.1l4.6 9.5M197.8 332.4L228.7 332.7M228.7 332.7l4.9 9.4M197.8 321.4L228.7 321.7M228.7 321.7l4.9 9.4M197.8 311.2L228.7 310.1M224.1 310.2l2.7 4.7M197.8 301.3L228.7 298.0M224.1 298.5l3.0 4.5M198.1 291.9L228.4 285.5M223.9 286.4l3.5 4.1M198.1 281.2L228.4 274.2M223.9 275.3l3.5 4.1M198.0 269.5L228.5 264.1M228.5 264.1l6.5 8.4M198.0 258.8L228.5 252.8M228.5 252.8l6.7 8.2M198.2 248.6L228.3 241.1M228.3 241.1l7.1 7.9M223.8 242.2l3.6 4.0M198.2 237.6L228.3 230.1M228.3 230.1l7.1 7.9M223.8 231.2l3.6 4.0M198.5 227.5L228.0 218.3M228.0 218.3l7.5 7.5M223.7 219.7l3.8 3.8M199.0 218.1L227.5 205.8M227.5 205.8l8.3 6.6M223.2 207.6l4.2 3.4M199.9 208.8L226.6 193.1M226.6 193.1l9.0 5.6M222.7 195.5l4.6 2.8M208.2 204.7L218.3 175.4M218.3 175.4l10.5 -1.7M216.8 179.7l5.3 -0.8M226.9 186.3L199.6 171.8M199.6 171.8l-0.0 -10.6M203.6 173.9l-0.0 -5.4M228.4 171.6L198.1 164.6M198.1 164.6l-2.7 -10.2M202.6 165.6l-1.4 -5.2M228.5 159.8L198.0 154.4M198.0 154.4l-3.3 -10.1M202.5 155.2l-1.7 -5.1M228.5 148.8L198.0 143.5M198.0 143.5l-3.3 -10.1M202.5 144.3l-1.7 -5.1M228.4 138.4L198.1 132.0M198.1 132.0l-2.9 -10.2M202.6 132.9l-1.5 -5.2M228.3 128.0L198.2 120.5M198.2 120.5l-2.6 -10.3M202.7 121.6l-1.3 -5.2M228.3 117.0L198.2 109.5M198.2 109.5l-2.6 -10.3M202.7 110.6l-1.3 -5.2M228.1 106.6L198.4 98.0M198.4 98.0l-2.2 -10.4M202.8 99.3l-1.1 -5.3M257.5 408.2L288.5 410.4M288.5 410.4l4.3 9.7M257.5 397.3L288.5 399.4M288.5 399.4l4.3 9.7M257.6 385.8L288.4 389.0M288.4 389.0l4.0 9.8M257.6 374.8L288.4 378.0M288.4 378.0l4.0 9.8M257.6 363.8L288.4 367.1M288.4 367.1l4.0 9.8M257.6 353.1L288.4 355.8M288.4 355.8l4.1 9.8M257.5 342.7L288.5 344.3M283.9 344.1l2.3 4.9M257.5 332.0L288.5 333.1M283.9 332.9l2.4 4.9M257.5 321.3L288.5 321.9M283.9 321.8l2.5 4.8M257.5 311.2L288.5 310.1M283.9 310.2l2.7 4.7M257.6 301.3L288.4 298.0M283.8 298.5l3.0 4.5M257.8 291.9L288.2 285.5M283.7 286.4l3.5 4.1M257.7 280.4L288.3 275.0M283.7 275.8l3.3 4.3M257.7 269.2L288.3 264.3M283.8 265.1l3.2 4.3M257.8 259.0L288.2 252.6M288.2 252.6l6.8 8.1M258.0 248.8L288.0 240.8M288.0 240.8l7.2 7.8M258.7 239.9L287.3 227.8M287.3 227.8l8.2 6.7M259.5 230.5L286.5 215.3M286.5 215.3l8.9 5.7M282.5 217.6l4.5 2.9M260.8 221.5L285.2 202.4M285.2 202.4l9.7 4.3M281.6 205.2l4.9 2.2M268.7 215.9L277.3 186.1M277.3 186.1l10.4 -2.2M276.0 190.5l5.3 -1.1M284.3 200.6L261.7 179.4M261.7 179.4l2.7 -10.2M265.0 182.6l1.4 -5.2M286.9 186.0L259.1 172.1M259.1 172.1l-0.3 -10.6M263.3 174.2l-0.1 -5.4M287.4 173.9L258.6 162.3M258.6 162.3l-1.1 -10.5M262.9 164.0l-0.6 -5.4M288.0 161.1L258.0 153.1M258.0 153.1l-2.4 -10.3M262.5 154.3l-1.2 -5.3M287.8 150.7L258.2 141.6M258.2 141.6l-2.0 -10.4M262.6 143.0l-1.0 -5.3M287.6 140.5L258.4 129.9M258.4 129.9l-1.5 -10.5M262.8 131.5l-0.8 -5.3M287.5 129.8L258.5 118.7M258.5 118.7l-1.3 -10.5M262.8 120.3l-0.7 -5.4M286.9 120.2L259.1 106.3M259.1 106.3l-0.3 -10.6M263.3 108.4l-0.1 -5.4M284.3 112.9L261.7 91.7M261.7 91.7l2.7 -10.2M265.0 94.9l1.4 -5.2M317.3 408.2L348.2 410.4M348.2 410.4l4.3 9.7M317.3 397.3L348.2 399.4M348.2 399.4l4.3 9.7M317.4 385.2L348.1 389.5M348.1 389.5l3.6 10.0M317.4 374.0L348.1 378.8M348.1 378.8l3.5 10.0M317.4 363.6L348.1 367.3M348.1 367.3l3.8 9.9M317.3 353.1L348.2 355.8M343.6 355.4l2.1 5.0M317.3 343.0L348.2 344.1M343.6 343.9l2.4 4.9M317.2 332.6L348.2 332.6M343.6 332.6l2.5 4.8M317.3 322.4L348.2 320.8M343.6 321.0l2.8 4.6M317.5 313.2L348.0 308.1M343.5 308.8l3.3 4.3M317.6 303.1L347.9 296.2M343.4 297.2l3.5 4.1M317.6 292.2L347.9 285.2M343.4 286.2l3.5 4.1M317.6 281.2L347.9 274.2M343.4 275.3l3.5 4.1M317.9 271.0L347.6 262.5M343.2 263.8l3.8 3.9M318.1 260.8L347.4 250.8M343.1 252.3l3.9 3.7M318.8 251.6L346.7 238.0M346.7 238.0l8.6 6.2M319.6 242.1L345.9 225.7M345.9 225.7l9.2 5.3M319.5 231.0L346.0 214.9M346.0 214.9l9.1 5.4M342.1 217.2l4.6 2.8M319.9 220.6L345.6 203.3M345.6 203.3l9.4 5.0M341.8 205.8l4.8 2.5M323.4 213.4L342.1 188.6M342.1 188.6l10.5 1.7M339.3 192.3l5.3 0.8M342.8 201.8L322.7 178.2M322.7 178.2l3.9 -9.9M325.7 181.7l2.0 -5.0M347.6 183.6L317.9 174.5M317.9 174.5l-2.0 -10.4M322.3 175.9l-1.0 -5.3M347.9 171.6L317.6 164.6M317.6 164.6l-2.7 -10.2M322.1 165.6l-1.4 -5.2M348.0 159.8L317.5 154.4M317.5 154.4l-3.3 -10.1M322.0 155.2l-1.7 -5.1M348.1 148.6L317.4 143.7M317.4 143.7l-3.5 -10.0M348.0 137.9L317.5 132.5M317.5 132.5l-3.3 -10.1M347.8 128.0L317.7 120.5M317.7 120.5l-2.6 -10.3M347.4 118.2L318.1 108.3M318.1 108.3l-1.7 -10.5M346.7 109.1L318.8 95.5M318.8 95.5l-0.4 -10.6M377.1 407.4L407.9 411.2M403.3 410.6l1.9 5.0M377.1 396.4L407.9 400.2M403.3 399.7l1.9 5.0M377.1 385.5L407.9 389.3M403.3 388.7l1.9 5.0M377.0 375.3L408.0 377.5M403.4 377.2l2.2 4.9M377.0 364.9L408.0 366.0M403.4 365.8l2.4 4.9M377.0 354.5L408.0 354.5M403.4 354.5l2.5 4.8M377.0 344.3L408.0 342.7M403.4 342.9l2.8 4.6M377.1 334.4L407.9 330.7M403.3 331.2l3.1 4.4M377.3 324.8L407.7 318.4M403.2 319.3l3.5 4.1M377.4 314.3L407.6 307.0M403.1 308.0l3.6 4.0M377.7 304.2L407.3 295.1M402.9 296.5l3.8 3.8M377.7 293.4L407.3 284.0M402.9 285.4l3.9 3.8M378.3 284.0L406.7 271.4M402.5 273.3l4.3 3.3M380.1 276.1L404.9 257.4M401.2 260.2l4.9 2.3M380.8 266.0L404.2 245.6M400.7 248.6l5.0 1.9M386.9 259.3L398.1 230.4M398.1 230.4l10.5 -1.3M398.5 248.2L386.5 219.6M386.5 219.6l6.7 -8.2M395.2 238.2L389.8 207.6M389.8 207.6l8.4 -6.5M390.6 212.2l4.3 -3.3M395.7 227.1L389.3 196.8M389.3 196.8l8.1 -6.8M390.2 201.3l4.1 -3.5M403.8 211.5L381.2 190.4M381.2 190.4l2.7 -10.2M384.5 193.5l1.4 -5.2M407.0 195.6L378.0 184.5M378.0 184.5l-1.3 -10.5M382.3 186.1l-0.7 -5.4M407.4 183.3L377.6 174.8M377.6 174.8l-2.2 -10.4M382.0 176.0l-1.1 -5.3M407.7 171.3L377.3 164.9M377.3 164.9l-2.9 -10.2M381.8 165.8l-1.5 -5.2M407.8 159.8L377.2 154.4M377.2 154.4l-3.3 -10.1M381.8 155.2l-1.7 -5.1M407.8 148.8L377.2 143.5M377.2 143.5l-3.3 -10.1M381.8 144.3l-1.7 -5.1M407.7 138.4L377.3 132.0M377.3 132.0l-2.9 -10.2M407.4 128.5L377.6 120.0M377.6 120.0l-2.2 -10.4M407.2 118.3L377.8 108.2M377.8 108.2l-1.7 -10.5M406.8 108.4L378.2 96.2M378.2 96.2l-0.9 -10.6M436.8 408.2L467.7 410.4M463.1 410.1l2.2 4.9M436.8 397.3L467.7 399.4M463.1 399.1l2.2 4.9M436.8 386.3L467.7 388.5M463.1 388.1l2.2 4.9M436.8 376.1L467.7 376.7M463.1 376.6l2.5 4.8M436.8 365.4L467.8 365.4M463.1 365.4l2.5 4.8M436.8 355.0L467.7 353.9M463.1 354.1l2.7 4.7M436.8 344.3L467.7 342.7M463.1 342.9l2.8 4.6M436.8 333.6L467.7 331.5M463.1 331.8l2.9 4.6M436.8 323.1L467.7 320.1M463.1 320.5l3.0 4.5M436.9 313.0L467.6 308.2M463.0 308.9l3.2 4.3M437.4 304.2L467.1 295.1M462.7 296.5l3.8 3.8M438.7 296.2L465.8 281.2M461.8 283.4l4.5 2.9M441.5 288.9L463.0 266.6M459.8 269.9l5.2 1.5M446.4 281.1L458.1 252.4M456.3 256.7l5.4 -0.6M459.3 269.6L445.2 242.0M447.3 246.1l3.1 -4.4M463.4 255.6L441.1 234.1M441.1 234.1l2.9 -10.2M463.4 244.6L441.1 223.1M441.1 223.1l2.9 -10.2M459.3 236.7L445.2 209.1M445.2 209.1l6.1 -8.7M461.8 224.2L442.7 199.7M442.7 199.7l4.3 -9.7M445.5 203.4l2.2 -4.9M466.1 208.0L438.4 193.9M438.4 193.9l-0.2 -10.6M442.5 196.0l-0.1 -5.4M467.2 194.0L437.3 186.0M437.3 186.0l-2.4 -10.3M441.7 187.2l-1.2 -5.3M467.5 181.7L437.0 176.4M437.0 176.4l-3.3 -10.1M441.5 177.2l-1.7 -5.1M467.5 170.8L437.0 165.4M437.0 165.4l-3.3 -10.1M441.5 166.2l-1.7 -5.1M467.4 160.2L437.1 154.0M437.1 154.0l-3.0 -10.2M467.2 150.2L437.3 142.1M437.3 142.1l-2.4 -10.3M467.1 139.7L437.4 130.7M437.4 130.7l-2.0 -10.4M467.1 128.5L437.4 120.0M437.4 120.0l-2.2 -10.4M466.2 120.1L438.3 106.5M438.3 106.5l-0.4 -10.6M455.5 117.5L449.0 87.1M449.0 87.1l8.1 -6.8M496.5 409.3L527.5 409.3M522.9 409.3l2.5 4.8M496.5 398.3L527.5 398.3M522.9 398.3l2.5 4.8M496.5 386.3L527.5 388.5M522.9 388.1l2.2 4.9M496.5 375.3L527.5 377.5M522.9 377.2l2.2 4.9M496.5 364.9L527.5 366.0M522.9 365.8l2.4 4.9M496.5 354.1L527.5 354.9M522.9 354.8l2.4 4.8M496.5 343.2L527.5 343.8M522.9 343.7l2.5 4.8M496.5 332.6L527.5 332.6M522.9 332.6l2.5 4.8M496.5 322.1L527.5 321.0M522.9 321.2l2.7 4.7M498.1 317.4L525.9 303.8M501.2 310.8L522.8 288.5M519.6 291.8l5.2 1.5M507.9 303.6L516.1 273.8M514.9 278.2l5.3 -1.2M515.2 292.9L508.8 262.6M509.7 267.1l4.1 -3.5M520.7 279.6L503.3 253.9M505.9 257.7l2.5 -4.8M520.2 268.9L503.8 242.7M506.2 246.6l2.7 -4.7M523.3 255.4L500.7 234.3M500.7 234.3l2.7 -10.2M523.7 244.0L500.3 223.7M500.3 223.7l2.4 -10.3M520.9 235.6L503.1 210.2M503.1 210.2l4.8 -9.4M522.0 223.8L502.0 200.1M502.0 200.1l4.0 -9.8M505.0 203.6l2.0 -5.0M525.7 208.3L498.3 193.7M498.3 193.7l-0.0 -10.6M502.4 195.9l-0.0 -5.4M526.8 194.5L497.2 185.5M497.2 185.5l-2.0 -10.4M501.6 186.8l-1.0 -5.3M527.1 182.5L496.9 175.6M496.9 175.6l-2.7 -10.2M501.4 176.6l-1.4 -5.2M527.0 171.8L497.0 164.3M497.0 164.3l-2.6 -10.3M527.2 160.3L496.8 153.9M496.8 153.9l-2.9 -10.2M527.3 148.7L496.7 143.6M496.7 143.6l-3.4 -10.1M527.3 137.9L496.7 132.5M496.7 132.5l-3.3 -10.1M526.7 129.3L497.3 119.2M497.3 119.2l-1.7 -10.5M513.6 128.7L510.4 97.8M510.4 97.8l8.8 -5.9M498.3 109.5L525.7 95.1M525.7 95.1l8.7 6.0M556.3 410.1L587.2 408.5M582.6 408.7l2.8 4.6M556.3 399.1L587.2 397.5M582.6 397.8l2.8 4.6M556.3 388.2L587.2 386.6M582.6 386.8l2.8 4.6M556.3 376.7L587.2 376.1M582.6 376.2l2.6 4.7M556.3 364.9L587.2 366.0M582.6 365.8l2.4 4.9M556.3 353.9L587.2 355.0M582.6 354.9l2.4 4.9M556.3 343.0L587.2 344.1M582.6 343.9l2.4 4.9M556.3 333.4L587.2 331.7M582.6 332.0l2.8 4.6M557.7 328.1L585.8 315.0M581.6 317.0l4.3 3.2M560.4 321.2L583.1 300.1M579.7 303.2l5.1 1.8M568.5 314.8L575.0 284.5M574.0 289.0l5.2 -1.5M579.5 302.1L564.0 275.3M566.3 279.3l2.9 -4.6M583.6 287.7L559.9 267.8M563.4 270.7l1.1 -5.3M585.2 274.5L558.3 259.0M562.3 261.3l0.2 -5.4M584.7 264.4L558.8 247.2M562.7 249.8l0.5 -5.4M584.6 253.5L558.9 236.2M558.9 236.2l1.1 -10.5M585.3 241.4L558.2 226.4M558.2 226.4l0.2 -10.6M585.6 229.8L557.9 216.0M557.9 216.0l-0.3 -10.6M585.4 219.2L558.1 204.7M558.1 204.7l-0.0 -10.6M562.1 206.8l-0.0 -5.4M586.1 206.8L557.4 195.2M557.4 195.2l-1.1 -10.5M561.6 196.9l-0.6 -5.4M586.9 193.4L556.6 186.7M556.6 186.7l-2.8 -10.2M561.1 187.7l-1.4 -5.2M587.0 182.0L556.5 176.1M556.5 176.1l-3.1 -10.1M561.1 177.0l-1.6 -5.2M587.0 171.0L556.5 165.1M556.5 165.1l-3.1 -10.1M561.1 166.0l-1.6 -5.2M587.1 159.5L556.4 154.7M556.4 154.7l-3.5 -10.0M587.1 148.6L556.4 143.7M556.4 143.7l-3.5 -10.0M586.7 139.3L556.8 131.1M556.8 131.1l-2.3 -10.3M586.5 129.0L557.0 119.4M557.0 119.4l-1.8 -10.4M586.5 118.1L557.0 108.5M557.0 108.5l-1.8 -10.4M586.3 107.6L557.2 97.0M557.2 97.0l-1.5 -10.5M616.0 409.3L647.0 409.3M642.4 409.3l2.5 4.8M616.0 398.3L647.0 398.3M642.4 398.3l2.5 4.8M616.0 387.4L647.0 387.4M642.4 387.4l2.5 4.8M616.0 375.3L647.0 377.5M642.4 377.2l2.2 4.9M616.0 365.2L647.0 365.7M642.4 365.6l2.5 4.8M616.0 354.5L647.0 354.5M642.4 354.5l2.5 4.8M616.0 344.1L647.0 343.0M642.4 343.1l2.7 4.7M616.2 335.2L646.8 329.9M642.2 330.7l3.3 4.3M617.2 327.6L645.8 315.5M641.5 317.3l4.2 3.4M618.7 319.4L644.3 301.8M640.5 304.4l4.8 2.5M622.6 312.4L640.4 287.0M637.8 290.7l5.4 0.7M637.1 303.2L625.9 274.2M627.6 278.5l3.5 -4.1M646.0 283.3L617.0 272.2M621.3 273.8l-0.7 -5.4M646.5 270.8L616.5 262.8M621.0 263.9l-1.2 -5.3M646.3 260.3L616.7 251.3M621.1 252.7l-1.1 -5.3M646.2 249.9L616.8 239.8M616.8 239.8l-1.7 -10.5M646.0 239.3L617.0 228.4M617.0 228.4l-1.4 -10.5M645.1 230.4L617.9 215.4M617.9 215.4l0.2 -10.6M622.0 217.6l0.1 -5.4M644.4 220.6L618.6 203.3M618.6 203.3l1.1 -10.5M622.5 205.8l0.6 -5.4M645.4 207.9L617.6 194.1M617.6 194.1l-0.3 -10.6M621.7 196.1l-0.1 -5.4M646.4 194.3L616.6 185.7M616.6 185.7l-2.2 -10.4M621.0 187.0l-1.1 -5.3M646.6 182.5L616.4 175.6M616.4 175.6l-2.7 -10.2M620.9 176.6l-1.4 -5.2M646.7 171.0L616.3 165.1M616.3 165.1l-3.1 -10.1M620.8 166.0l-1.6 -5.2M646.8 159.5L616.2 154.7M616.2 154.7l-3.5 -10.0M646.9 148.2L616.1 144.1M616.1 144.1l-3.7 -9.9M646.7 138.0L616.3 132.3M616.3 132.3l-3.2 -10.1M646.3 128.8L616.7 119.7M616.7 119.7l-2.0 -10.4M646.1 118.6L616.9 108.0M616.9 108.0l-1.5 -10.5M643.7 111.8L619.3 92.8M619.3 92.8l1.8 -10.4M675.8 409.3L706.8 409.3M706.8 409.3l5.0 9.4M675.8 398.3L706.8 398.3M706.8 398.3l5.0 9.4M675.8 387.4L706.8 387.4M702.1 387.4l2.5 4.8M675.8 376.1L706.7 376.7M702.1 376.6l2.5 4.8M675.8 365.4L706.8 365.4M702.1 365.4l2.5 4.8M675.8 355.0L706.7 353.9M702.1 354.1l2.7 4.7M675.8 344.9L706.7 342.2M702.1 342.6l2.9 4.5M675.9 335.0L706.6 330.1M702.0 330.8l3.2 4.3M676.1 325.1L706.4 318.1M701.9 319.1l3.5 4.1M676.9 316.4L705.6 304.8M701.4 306.5l4.1 3.5M679.2 309.4L703.3 289.9M699.7 292.8l5.0 2.1M695.5 303.6L687.0 273.8M688.2 278.2l3.9 -3.8M705.4 284.0L677.1 271.4M681.3 273.3l-0.4 -5.4M705.9 271.8L676.6 261.7M680.9 263.2l-0.8 -5.3M705.7 261.5L676.8 250.1M676.8 250.1l-1.2 -10.5M706.0 249.5L676.5 240.1M676.5 240.1l-1.9 -10.4M706.1 238.1L676.4 229.6M676.4 229.6l-2.2 -10.4M705.8 228.2L676.7 217.6M676.7 217.6l-1.5 -10.5M705.1 218.9L677.4 205.0M677.4 205.0l-0.3 -10.6M681.5 207.1l-0.1 -5.4M705.3 207.5L677.2 194.4M677.2 194.4l-0.6 -10.6M681.4 196.4l-0.3 -5.4M706.1 194.3L676.4 185.7M676.4 185.7l-2.2 -10.4M706.4 182.5L676.1 175.6M676.1 175.6l-2.7 -10.2M680.6 176.6l-1.4 -5.2M706.5 171.0L676.0 165.1M676.0 165.1l-3.1 -10.1M680.6 166.0l-1.6 -5.2M706.5 159.9L676.0 154.3M676.0 154.3l-3.2 -10.1M706.5 149.0L676.0 143.3M676.0 143.3l-3.2 -10.1M706.4 138.7L676.1 131.7M676.1 131.7l-2.7 -10.2M705.5 130.3L677.0 118.2M677.0 118.2l-0.9 -10.6M697.1 127.6L685.4 98.9M685.4 98.9l6.8 -8.1M679.4 112.3L703.1 92.3M703.1 92.3l9.9 3.9M735.6 407.4L766.4 411.2M766.4 411.2l3.8 9.9M735.6 397.0L766.4 399.7M766.4 399.7l4.1 9.8M735.5 386.3L766.5 388.5M761.9 388.1l2.2 4.9M735.5 376.1L766.5 376.7M761.9 376.6l2.5 4.8M735.5 365.2L766.5 365.7M761.9 365.6l2.5 4.8M735.5 354.3L766.5 354.7M761.9 354.6l2.5 4.8M735.5 343.5L766.5 343.5M761.9 343.5l2.5 4.8M735.5 332.8L766.5 332.3M761.9 332.4l2.6 4.7M735.5 322.8L766.5 320.4M761.9 320.7l2.9 4.6M736.4 315.9L765.6 305.3M761.2 306.9l4.0 3.6M745.4 314.1L756.6 285.2M754.9 289.5l5.4 -0.7M758.5 302.2L743.5 275.1M745.7 279.2l2.9 -4.5M764.3 285.6L737.7 269.8M741.6 272.2l0.3 -5.4M765.9 271.0L736.1 262.5M740.5 263.8l-1.1 -5.3M766.3 258.5L735.7 253.1M735.7 253.1l-3.3 -10.1M766.1 248.5L735.9 241.2M735.9 241.2l-2.7 -10.3M765.8 238.4L736.2 229.3M736.2 229.3l-2.0 -10.4M765.7 228.0L736.3 217.9M736.3 217.9l-1.7 -10.5M765.0 218.5L737.0 205.4M737.0 205.4l-0.6 -10.6M764.7 208.2L737.3 193.8M737.3 193.8l-0.1 -10.6M764.9 196.8L737.1 183.2M737.1 183.2l-0.4 -10.6M765.7 184.1L736.3 174.0M736.3 174.0l-1.7 -10.5M766.0 171.8L736.0 164.3M736.0 164.3l-2.6 -10.3M766.0 160.9L736.0 153.4M736.0 153.4l-2.6 -10.3M766.1 149.6L735.9 142.7M735.9 142.7l-2.7 -10.2M765.8 139.7L736.2 130.7M736.2 130.7l-2.0 -10.4M765.6 129.5L736.4 118.9M736.4 118.9l-1.5 -10.5M764.6 120.8L737.4 105.7M737.4 105.7l0.2 -10.6M744.9 116.6L757.1 88.0M757.1 88.0l10.6 -0.9M795.5 406.3L826.0 412.3M826.0 412.3l3.1 10.1M795.6 395.2L825.9 401.5M825.9 401.5l3.0 10.2M795.4 385.2L826.1 389.5M826.1 389.5l3.6 10.0M795.3 374.9L826.2 377.9M821.6 377.5l2.1 5.0M795.3 364.3L826.2 366.6M821.6 366.3l2.2 4.9M795.3 353.4L826.2 355.6M821.6 355.2l2.2 4.9M795.3 342.7L826.2 344.3M821.6 344.1l2.3 4.9M795.3 332.4L826.2 332.7M821.6 332.6l2.5 4.8M795.3 322.4L826.2 320.8M799.1 320.8L822.4 300.5M819.0 303.5l5.0 1.9M803.5 313.3L818.0 286.0M815.9 290.0l5.4 0.0M814.0 303.9L807.5 273.5M808.5 278.0l4.1 -3.5M823.9 285.9L797.6 269.5M801.5 272.0l0.4 -5.4M825.2 272.3L796.3 261.2M800.6 262.9l-0.7 -5.4M825.5 260.6L796.0 251.0M796.0 251.0l-1.8 -10.4M825.6 249.2L795.9 240.4M795.9 240.4l-2.1 -10.4M825.1 239.7L796.4 228.1M796.4 228.1l-1.1 -10.5M824.5 230.1L797.0 215.7M797.0 215.7l-0.1 -10.6M822.8 221.7L798.7 202.2M798.7 202.2l2.0 -10.4M823.6 209.6L797.9 192.3M797.9 192.3l1.1 -10.5M825.2 195.7L796.3 184.3M796.3 184.3l-1.2 -10.5M825.7 183.2L795.8 174.9M795.8 174.9l-2.3 -10.3M825.9 171.3L795.6 164.9M795.6 164.9l-2.9 -10.2M826.0 159.8L795.5 154.4M800.0 155.2l-1.7 -5.1M826.0 148.8L795.5 143.5M800.0 144.3l-1.7 -5.1M825.9 138.4L795.6 132.0M800.1 132.9l-1.5 -5.2M825.9 127.5L795.6 121.0M800.1 122.0l-1.5 -5.2M825.7 117.4L795.8 109.1M800.2 110.4l-1.2 -5.3M810.8 117.8L810.8 86.8M810.8 91.4l4.8 -2.5M855.3 406.3L885.7 412.3M885.7 412.3l3.1 10.1M855.4 394.8L885.6 401.8M885.6 401.8l2.7 10.2M855.3 384.5L885.7 390.2M885.7 390.2l3.2 10.1M855.1 374.8L885.9 378.0M881.3 377.5l2.0 5.0M855.0 364.9L886.0 366.0M881.4 365.8l2.4 4.9M855.0 353.5L886.0 355.4M881.4 355.1l2.2 4.9M855.0 342.4L886.0 344.6M881.4 344.3l2.2 4.9M855.0 332.6L886.0 332.6M881.4 332.6l2.5 4.8M855.1 322.9L885.9 320.2M881.4 320.6l2.9 4.5M856.1 316.4L884.9 304.8M880.6 306.5l4.1 3.5M857.2 307.6L883.8 291.7M879.8 294.0l4.6 2.8M868.6 304.1L872.4 273.3M871.8 277.9l5.0 -1.9M871.3 293.2L869.7 262.2M869.9 266.8l4.6 -2.8M882.0 277.1L859.0 256.4M862.4 259.5l1.3 -5.2M884.9 261.6L856.1 250.0M860.4 251.7l-0.6 -5.4M885.0 250.3L856.0 239.4M856.0 239.4l-1.4 -10.5M884.6 240.3L856.4 227.4M856.4 227.4l-0.6 -10.6M879.4 235.6L861.6 210.2M861.6 210.2l4.8 -9.4M877.8 225.6L863.2 198.3M863.2 198.3l5.9 -8.8M883.5 209.4L857.5 192.5M857.5 192.5l0.9 -10.6M885.5 193.8L855.5 186.3M855.5 186.3l-2.6 -10.3M885.6 182.5L855.4 175.6M855.4 175.6l-2.7 -10.2M885.6 171.6L855.4 164.6M855.4 164.6l-2.7 -10.2M885.8 159.3L855.2 155.0M855.2 155.0l-3.6 -10.0M885.9 147.8L855.1 144.5M855.1 144.5l-4.0 -9.8M885.9 137.1L855.1 133.3M859.7 133.9l-1.9 -5.0M885.7 127.2L855.3 121.3M859.8 122.1l-1.6 -5.2M883.7 121.4L857.3 105.1M861.2 107.5l0.3 -5.4M878.2 115.7L862.8 88.9M865.0 92.9l2.9 -4.6" fill="none" stroke="#0a0a14" stroke-width="0.65" stroke-linecap="butt"/>
<path d="M153.5 409.3h24M870.5 409.3h-24M153.5 365.4h24M870.5 365.4h-24M153.5 321.6h24M870.5 321.6h-24M153.5 277.7h24M870.5 277.7h-24M153.5 233.9h24M870.5 233.9h-24M153.5 190.0h24M870.5 190.0h-24M153.5 146.2h24M870.5 146.2h-24M153.5 102.3h24M870.5 102.3h-24M213.2 102.3v10.5M213.2 409.3v-10.5M273.0 102.3v10.5M273.0 409.3v-10.5M332.8 102.3v10.5M332.8 409.3v-10.5M392.5 102.3v10.5M392.5 409.3v-10.5M452.2 102.3v10.5M452.2 409.3v-10.5M512.0 102.3v10.5M512.0 409.3v-10.5M571.8 102.3v10.5M571.8 409.3v-10.5M631.5 102.3v10.5M631.5 409.3v-10.5M691.2 102.3v10.5M691.2 409.3v-10.5M751.0 102.3v10.5M751.0 409.3v-10.5M810.8 102.3v10.5M810.8 409.3v-10.5" stroke="#000" stroke-width="1.3" fill="none"/>
<path d="M153.5 398.3h12M870.5 398.3h-12M153.5 387.4h12M870.5 387.4h-12M153.5 376.4h12M870.5 376.4h-12M153.5 354.5h12M870.5 354.5h-12M153.5 343.5h12M870.5 343.5h-12M153.5 332.6h12M870.5 332.6h-12M153.5 310.6h12M870.5 310.6h-12M153.5 299.7h12M870.5 299.7h-12M153.5 288.7h12M870.5 288.7h-12M153.5 266.8h12M870.5 266.8h-12M153.5 255.8h12M870.5 255.8h-12M153.5 244.8h12M870.5 244.8h-12M153.5 222.9h12M870.5 222.9h-12M153.5 211.9h12M870.5 211.9h-12M153.5 201.0h12M870.5 201.0h-12M153.5 179.1h12M870.5 179.1h-12M153.5 168.1h12M870.5 168.1h-12M153.5 157.1h12M870.5 157.1h-12M153.5 135.2h12M870.5 135.2h-12M153.5 124.2h12M870.5 124.2h-12M153.5 113.3h12M870.5 113.3h-12" stroke="#000" stroke-width="0.8" fill="none"/>
<rect x="153.5" y="102.3" width="717.0" height="307.0" fill="none" stroke="#000" stroke-width="1.2"/>
<text x="143.5" y="414.1" font-size="13.3" text-anchor="end">0</text>
<text x="143.5" y="370.2" font-size="13.3" text-anchor="end">4</text>
<text x="143.5" y="326.4" font-size="13.3" text-anchor="end">8</text>
<text x="143.5" y="282.5" font-size="13.3" text-anchor="end">12</text>
<text x="143.5" y="238.7" font-size="13.3" text-anchor="end">16</text>
<text x="143.5" y="194.8" font-size="13.3" text-anchor="end">20</text>
<text x="143.5" y="151.0" font-size="13.3" text-anchor="end">24</text>
<text x="143.5" y="107.1" font-size="13.3" text-anchor="end">28</text>
<text transform="translate(152.8 433.9) rotate(-45)" font-size="13.0" text-anchor="middle" dy="0.36em">28_12</text>
<text transform="translate(212.6 433.9) rotate(-45)" font-size="13.0" text-anchor="middle" dy="0.36em">28_15</text>
<text transform="translate(272.3 433.9) rotate(-45)" font-size="13.0" text-anchor="middle" dy="0.36em">28_18</text>
<text transform="translate(332.1 433.9) rotate(-45)" font-size="13.0" text-anchor="middle" dy="0.36em">28_21</text>
<text transform="translate(391.8 433.9) rotate(-45)" font-size="13.0" text-anchor="middle" dy="0.36em">29_00</text>
<text transform="translate(451.6 433.9) rotate(-45)" font-size="13.0" text-anchor="middle" dy="0.36em">29_03</text>
<text transform="translate(511.3 433.9) rotate(-45)" font-size="13.0" text-anchor="middle" dy="0.36em">29_06</text>
<text transform="translate(571.0 433.9) rotate(-45)" font-size="13.0" text-anchor="middle" dy="0.36em">29_09</text>
<text transform="translate(630.8 433.9) rotate(-45)" font-size="13.0" text-anchor="middle" dy="0.36em">29_12</text>
<text transform="translate(690.5 433.9) rotate(-45)" font-size="13.0" text-anchor="middle" dy="0.36em">29_15</text>
<text transform="translate(750.3 433.9) rotate(-45)" font-size="13.0" text-anchor="middle" dy="0.36em">29_18</text>
<text transform="translate(810.0 433.9) rotate(-45)" font-size="13.0" text-anchor="middle" dy="0.36em">29_21</text>
<text transform="translate(869.8 433.9) rotate(-45)" font-size="13.0" text-anchor="middle" dy="0.36em">30_00</text>
<rect x="912.3" y="113.20" width="19.7" height="3.00" fill="#ffb9b9"/>
<rect x="912.3" y="116.15" width="19.7" height="3.00" fill="#faa5a5"/>
<rect x="912.3" y="119.09" width="19.7" height="3.00" fill="#f08c8c"/>
<rect x="912.3" y="122.04" width="19.7" height="3.00" fill="#e66969"/>
<rect x="912.3" y="124.98" width="19.7" height="3.00" fill="#de4646"/>
<rect x="912.3" y="127.93" width="19.7" height="3.00" fill="#d73232"/>
<rect x="912.3" y="130.87" width="19.7" height="3.00" fill="#cd1e1e"/>
<rect x="912.3" y="133.82" width="19.7" height="3.00" fill="#c30f0f"/>
<rect x="912.3" y="136.76" width="19.7" height="3.00" fill="#c00000"/>
<rect x="912.3" y="139.71" width="19.7" height="3.00" fill="#c80000"/>
<rect x="912.3" y="142.65" width="19.7" height="3.00" fill="#d00000"/>
<rect x="912.3" y="145.60" width="19.7" height="3.00" fill="#d90000"/>
<rect x="912.3" y="148.54" width="19.7" height="3.00" fill="#e10000"/>
<rect x="912.3" y="151.49" width="19.7" height="3.00" fill="#e80000"/>
<rect x="912.3" y="154.44" width="19.7" height="3.00" fill="#f00000"/>
<rect x="912.3" y="157.38" width="19.7" height="3.00" fill="#f80000"/>
<rect x="912.3" y="160.33" width="19.7" height="3.00" fill="#ff0000"/>
<rect x="912.3" y="163.27" width="19.7" height="3.00" fill="#ff0f00"/>
<rect x="912.3" y="166.22" width="19.7" height="3.00" fill="#ff1e00"/>
<rect x="912.3" y="169.16" width="19.7" height="3.00" fill="#ff2d00"/>
<rect x="912.3" y="172.11" width="19.7" height="3.00" fill="#ff3c00"/>
<rect x="912.3" y="175.05" width="19.7" height="3.00" fill="#ff4800"/>
<rect x="912.3" y="178.00" width="19.7" height="3.00" fill="#ff5500"/>
<rect x="912.3" y="180.94" width="19.7" height="3.00" fill="#ff6200"/>
<rect x="912.3" y="183.89" width="19.7" height="3.00" fill="#ff6e00"/>
<rect x="912.3" y="186.83" width="19.7" height="3.00" fill="#ff7400"/>
<rect x="912.3" y="189.78" width="19.7" height="3.00" fill="#ff7a00"/>
<rect x="912.3" y="192.72" width="19.7" height="3.00" fill="#ff8100"/>
<rect x="912.3" y="195.67" width="19.7" height="3.00" fill="#ff8700"/>
<rect x="912.3" y="198.62" width="19.7" height="3.00" fill="#ff8c00"/>
<rect x="912.3" y="201.56" width="19.7" height="3.00" fill="#ff9100"/>
<rect x="912.3" y="204.51" width="19.7" height="3.00" fill="#ff9600"/>
<rect x="912.3" y="207.45" width="19.7" height="3.00" fill="#ff9e00"/>
<rect x="912.3" y="210.40" width="19.7" height="3.00" fill="#ffa500"/>
<rect x="912.3" y="213.34" width="19.7" height="3.00" fill="#ffac03"/>
<rect x="912.3" y="216.29" width="19.7" height="3.00" fill="#ffb207"/>
<rect x="912.3" y="219.23" width="19.7" height="3.00" fill="#ffb90a"/>
<rect x="912.3" y="222.18" width="19.7" height="3.00" fill="#ffc312"/>
<rect x="912.3" y="225.12" width="19.7" height="3.00" fill="#ffcd1a"/>
<rect x="912.3" y="228.07" width="19.7" height="3.00" fill="#ffd622"/>
<rect x="912.3" y="231.01" width="19.7" height="3.00" fill="#ffdd29"/>
<rect x="912.3" y="233.96" width="19.7" height="3.00" fill="#ffe438"/>
<rect x="912.3" y="236.91" width="19.7" height="3.00" fill="#ffe84f"/>
<rect x="912.3" y="239.85" width="19.7" height="3.00" fill="#ffee66"/>
<rect x="912.3" y="242.80" width="19.7" height="3.00" fill="#fff37e"/>
<rect x="912.3" y="245.74" width="19.7" height="3.00" fill="#fff896"/>
<rect x="912.3" y="248.69" width="19.7" height="3.00" fill="#fffaa7"/>
<rect x="912.3" y="251.63" width="19.7" height="3.00" fill="#fffdb7"/>
<rect x="912.3" y="254.58" width="19.7" height="3.00" fill="#ffffc8"/>
<rect x="912.3" y="257.52" width="19.7" height="3.00" fill="#c8e8f7"/>
<rect x="912.3" y="260.47" width="19.7" height="3.00" fill="#c1e5f6"/>
<rect x="912.3" y="263.41" width="19.7" height="3.00" fill="#bbe1f4"/>
<rect x="912.3" y="266.36" width="19.7" height="3.00" fill="#b4def3"/>
<rect x="912.3" y="269.30" width="19.7" height="3.00" fill="#acdaf2"/>
<rect x="912.3" y="272.25" width="19.7" height="3.00" fill="#a4d6f1"/>
<rect x="912.3" y="275.19" width="19.7" height="3.00" fill="#9bd2f0"/>
<rect x="912.3" y="278.14" width="19.7" height="3.00" fill="#91cfef"/>
<rect x="912.3" y="281.09" width="19.7" height="3.00" fill="#87cbee"/>
<rect x="912.3" y="284.03" width="19.7" height="3.00" fill="#75c7ef"/>
<rect x="912.3" y="286.98" width="19.7" height="3.00" fill="#62c2ef"/>
<rect x="912.3" y="289.92" width="19.7" height="3.00" fill="#50bef0"/>
<rect x="912.3" y="292.87" width="19.7" height="3.00" fill="#3cbcf2"/>
<rect x="912.3" y="295.81" width="19.7" height="3.00" fill="#28baf4"/>
<rect x="912.3" y="298.76" width="19.7" height="3.00" fill="#16b9f6"/>
<rect x="912.3" y="301.70" width="19.7" height="3.00" fill="#08b9f9"/>
<rect x="912.3" y="304.65" width="19.7" height="3.00" fill="#00b4fa"/>
<rect x="912.3" y="307.59" width="19.7" height="3.00" fill="#00aafc"/>
<rect x="912.3" y="310.54" width="19.7" height="3.00" fill="#02a1fd"/>
<rect x="912.3" y="313.48" width="19.7" height="3.00" fill="#0699fe"/>
<rect x="912.3" y="316.43" width="19.7" height="3.00" fill="#0a91ff"/>
<rect x="912.3" y="319.38" width="19.7" height="3.00" fill="#0f8eff"/>
<rect x="912.3" y="322.32" width="19.7" height="3.00" fill="#148aff"/>
<rect x="912.3" y="325.27" width="19.7" height="3.00" fill="#1987ff"/>
<rect x="912.3" y="328.21" width="19.7" height="3.00" fill="#1d83f9"/>
<rect x="912.3" y="331.16" width="19.7" height="3.00" fill="#217ff3"/>
<rect x="912.3" y="334.10" width="19.7" height="3.00" fill="#267bee"/>
<rect x="912.3" y="337.05" width="19.7" height="3.00" fill="#2c77ea"/>
<rect x="912.3" y="339.99" width="19.7" height="3.00" fill="#3273e6"/>
<rect x="912.3" y="342.94" width="19.7" height="3.00" fill="#3570e3"/>
<rect x="912.3" y="345.88" width="19.7" height="3.00" fill="#396cdf"/>
<rect x="912.3" y="348.83" width="19.7" height="3.00" fill="#3c69dc"/>
<rect x="912.3" y="351.77" width="19.7" height="3.00" fill="#395fdf"/>
<rect x="912.3" y="354.72" width="19.7" height="3.00" fill="#3253e3"/>
<rect x="912.3" y="357.66" width="19.7" height="3.00" fill="#2946e8"/>
<rect x="912.3" y="360.61" width="19.7" height="3.00" fill="#2038ec"/>
<rect x="912.3" y="363.56" width="19.7" height="3.00" fill="#1729f1"/>
<rect x="912.3" y="366.50" width="19.7" height="3.00" fill="#0d1af6"/>
<rect x="912.3" y="369.45" width="19.7" height="3.00" fill="#0408f9"/>
<rect x="912.3" y="372.39" width="19.7" height="3.00" fill="#0000fc"/>
<rect x="912.3" y="375.34" width="19.7" height="3.00" fill="#0600fe"/>
<rect x="912.3" y="378.28" width="19.7" height="3.00" fill="#1800fb"/>
<rect x="912.3" y="381.23" width="19.7" height="3.00" fill="#2c03f8"/>
<rect x="912.3" y="384.17" width="19.7" height="3.00" fill="#4008f6"/>
<rect x="912.3" y="387.12" width="19.7" height="3.00" fill="#540ef4"/>
<rect x="912.3" y="390.06" width="19.7" height="3.00" fill="#6715f2"/>
<rect x="912.3" y="393.01" width="19.7" height="3.00" fill="#761af0"/>
<rect x="912.3" y="395.95" width="19.7" height="3.00" fill="#851eee"/>
<path d="M912.3 116.15H932.0M912.3 119.09H932.0M912.3 122.04H932.0M912.3 124.98H932.0M912.3 127.93H932.0M912.3 130.87H932.0M912.3 133.82H932.0M912.3 136.76H932.0M912.3 139.71H932.0M912.3 142.65H932.0M912.3 145.60H932.0M912.3 148.54H932.0M912.3 151.49H932.0M912.3 154.44H932.0M912.3 157.38H932.0M912.3 160.33H932.0M912.3 163.27H932.0M912.3 166.22H932.0M912.3 169.16H932.0M912.3 172.11H932.0M912.3 175.05H932.0M912.3 178.00H932.0M912.3 180.94H932.0M912.3 183.89H932.0M912.3 186.83H932.0M912.3 189.78H932.0M912.3 192.72H932.0M912.3 195.67H932.0M912.3 198.62H932.0M912.3 201.56H932.0M912.3 204.51H932.0M912.3 207.45H932.0M912.3 210.40H932.0M912.3 213.34H932.0M912.3 216.29H932.0M912.3 219.23H932.0M912.3 222.18H932.0M912.3 225.12H932.0M912.3 228.07H932.0M912.3 231.01H932.0M912.3 233.96H932.0M912.3 236.91H932.0M912.3 239.85H932.0M912.3 242.80H932.0M912.3 245.74H932.0M912.3 248.69H932.0M912.3 251.63H932.0M912.3 254.58H932.0M912.3 257.52H932.0M912.3 260.47H932.0M912.3 263.41H932.0M912.3 266.36H932.0M912.3 269.30H932.0M912.3 272.25H932.0M912.3 275.19H932.0M912.3 278.14H932.0M912.3 281.09H932.0M912.3 284.03H932.0M912.3 286.98H932.0M912.3 289.92H932.0M912.3 292.87H932.0M912.3 295.81H932.0M912.3 298.76H932.0M912.3 301.70H932.0M912.3 304.65H932.0M912.3 307.59H932.0M912.3 310.54H932.0M912.3 313.48H932.0M912.3 316.43H932.0M912.3 319.38H932.0M912.3 322.32H932.0M912.3 325.27H932.0M912.3 328.21H932.0M912.3 331.16H932.0M912.3 334.10H932.0M912.3 337.05H932.0M912.3 339.99H932.0M912.3 342.94H932.0M912.3 345.88H932.0M912.3 348.83H932.0M912.3 351.77H932.0M912.3 354.72H932.0M912.3 357.66H932.0M912.3 360.61H932.0M912.3 363.56H932.0M912.3 366.50H932.0M912.3 369.45H932.0M912.3 372.39H932.0M912.3 375.34H932.0M912.3 378.28H932.0M912.3 381.23H932.0M912.3 384.17H932.0M912.3 387.12H932.0M912.3 390.06H932.0M912.3 393.01H932.0M912.3 395.95H932.0" stroke="#fff" stroke-opacity="0.22" stroke-width="0.6" fill="none"/>
<text x="950.6" y="122.0" font-size="16.3">35</text>
<text x="950.6" y="142.7" font-size="16.3">28</text>
<text x="950.6" y="163.3" font-size="16.3">21</text>
<text x="950.6" y="183.9" font-size="16.3">14</text>
<text x="950.6" y="204.5" font-size="16.3">7</text>
<text x="950.6" y="225.1" font-size="16.3">0</text>
<text x="950.6" y="245.8" font-size="16.3">-7</text>
<text x="950.6" y="266.4" font-size="16.3">-14</text>
<text x="950.6" y="287.0" font-size="16.3">-21</text>
<text x="950.6" y="307.6" font-size="16.3">-28</text>
<text x="950.6" y="328.2" font-size="16.3">-35</text>
<text x="950.6" y="348.8" font-size="16.3">-42</text>
<text x="950.6" y="369.5" font-size="16.3">-49</text>
<text x="950.6" y="390.1" font-size="16.3">-56</text>
<path d="M153.7 548.4H870.5M153.7 533.7H870.5M153.7 519.1H870.5M153.7 504.4H870.5M153.7 489.8H870.5M153.7 475.1H870.5" stroke="#222" stroke-width="0.7" stroke-dasharray="3.5 6.1" fill="none"/>
<path d="M204.9 563.0V460.5M256.1 563.0V460.5M307.3 563.0V460.5M358.5 563.0V460.5M409.7 563.0V460.5M460.9 563.0V460.5M512.1 563.0V460.5M563.3 563.0V460.5M614.5 563.0V460.5M665.7 563.0V460.5M716.9 563.0V460.5M768.1 563.0V460.5M819.3 563.0V460.5" stroke="#222" stroke-width="0.7" stroke-dasharray="3.5 6.1" stroke-dashoffset="1.3" fill="none"/>
<path d="M153.7 563.0h-13.8M870.5 563.0h13.8M153.7 559.3h-7.0M870.5 559.3h7.0M153.7 555.7h-7.0M870.5 555.7h7.0M153.7 552.0h-7.0M870.5 552.0h7.0M153.7 548.4h-13.8M870.5 548.4h13.8M153.7 544.7h-7.0M870.5 544.7h7.0M153.7 541.0h-7.0M870.5 541.0h7.0M153.7 537.4h-7.0M870.5 537.4h7.0M153.7 533.7h-13.8M870.5 533.7h13.8M153.7 530.1h-7.0M870.5 530.1h7.0M153.7 526.4h-7.0M870.5 526.4h7.0M153.7 522.7h-7.0M870.5 522.7h7.0M153.7 519.1h-13.8M870.5 519.1h13.8M153.7 515.4h-7.0M870.5 515.4h7.0M153.7 511.8h-7.0M870.5 511.8h7.0M153.7 508.1h-7.0M870.5 508.1h7.0M153.7 504.4h-13.8M870.5 504.4h13.8M153.7 500.8h-7.0M870.5 500.8h7.0M153.7 497.1h-7.0M870.5 497.1h7.0M153.7 493.4h-7.0M870.5 493.4h7.0M153.7 489.8h-13.8M870.5 489.8h13.8M153.7 486.1h-7.0M870.5 486.1h7.0M153.7 482.5h-7.0M870.5 482.5h7.0M153.7 478.8h-7.0M870.5 478.8h7.0M153.7 475.1h-13.8M870.5 475.1h13.8M153.7 471.5h-7.0M870.5 471.5h7.0M153.7 467.8h-7.0M870.5 467.8h7.0M153.7 464.2h-7.0M870.5 464.2h7.0M153.7 460.5h-13.8M870.5 460.5h13.8M204.9 563.0v13.5M256.1 563.0v13.5M307.3 563.0v13.5M358.5 563.0v13.5M409.7 563.0v13.5M460.9 563.0v13.5M512.1 563.0v13.5M563.3 563.0v13.5M614.5 563.0v13.5M665.7 563.0v13.5M716.9 563.0v13.5M768.1 563.0v13.5M819.3 563.0v13.5" stroke="#000" stroke-width="0.78" fill="none"/>
<rect x="153.7" y="460.5" width="716.8" height="102.5" fill="none" stroke="#000" stroke-width="1.0"/>
<polyline points="204.9,465.3 256.1,508.1 307.3,524.0 358.5,525.0 409.7,562.9 460.9,526.4 512.1,528.4 563.3,530.0 614.5,494.2 665.7,500.8 716.9,503.5 768.1,483.5 819.3,509.8" fill="none" stroke="#1a1aff" stroke-width="1.2"/>
<text x="134.3" y="566.2" font-size="8.9" text-anchor="end">1016.0</text>
<text x="134.3" y="551.6" font-size="8.9" text-anchor="end">1016.4</text>
<text x="134.3" y="536.9" font-size="8.9" text-anchor="end">1016.8</text>
<text x="134.3" y="522.3" font-size="8.9" text-anchor="end">1017.2</text>
<text x="134.3" y="507.6" font-size="8.9" text-anchor="end">1017.6</text>
<text x="134.3" y="493.0" font-size="8.9" text-anchor="end">1018.0</text>
<text x="134.3" y="478.3" font-size="8.9" text-anchor="end">1018.4</text>
<text x="134.3" y="463.7" font-size="8.9" text-anchor="end">1018.8</text>
<text transform="translate(91.3 511.8) rotate(-90)" font-size="24.0" text-anchor="middle">PMSL</text>
<text transform="translate(208.1 589.4) rotate(-45)" font-size="13.0" text-anchor="middle" dy="0.36em">28_12</text>
<text transform="translate(259.3 589.4) rotate(-45)" font-size="13.0" text-anchor="middle" dy="0.36em">28_15</text>
<text transform="translate(310.5 589.4) rotate(-45)" font-size="13.0" text-anchor="middle" dy="0.36em">28_18</text>
<text transform="translate(361.7 589.4) rotate(-45)" font-size="13.0" text-anchor="middle" dy="0.36em">28_21</text>
<text transform="translate(412.9 589.4) rotate(-45)" font-size="13.0" text-anchor="middle" dy="0.36em">29_00</text>
<text transform="translate(464.1 589.4) rotate(-45)" font-size="13.0" text-anchor="middle" dy="0.36em">29_03</text>
<text transform="translate(515.3 589.4) rotate(-45)" font-size="13.0" text-anchor="middle" dy="0.36em">29_06</text>
<text transform="translate(566.5 589.4) rotate(-45)" font-size="13.0" text-anchor="middle" dy="0.36em">29_09</text>
<text transform="translate(617.7 589.4) rotate(-45)" font-size="13.0" text-anchor="middle" dy="0.36em">29_12</text>
<text transform="translate(668.9 589.4) rotate(-45)" font-size="13.0" text-anchor="middle" dy="0.36em">29_15</text>
<text transform="translate(720.1 589.4) rotate(-45)" font-size="13.0" text-anchor="middle" dy="0.36em">29_18</text>
<text transform="translate(771.3 589.4) rotate(-45)" font-size="13.0" text-anchor="middle" dy="0.36em">29_21</text>
<text transform="translate(822.5 589.4) rotate(-45)" font-size="13.0" text-anchor="middle" dy="0.36em">30_00</text>
<path d="M153.7 699.6H870.5M153.7 682.5H870.5M153.7 665.5H870.5M153.7 648.5H870.5M153.7 631.4H870.5" stroke="#222" stroke-width="0.7" stroke-dasharray="3.5 6.1" fill="none"/>
<path d="M204.9 716.6V614.4M256.1 716.6V614.4M307.3 716.6V614.4M358.5 716.6V614.4M409.7 716.6V614.4M460.9 716.6V614.4M512.1 716.6V614.4M563.3 716.6V614.4M614.5 716.6V614.4M665.7 716.6V614.4M716.9 716.6V614.4M768.1 716.6V614.4M819.3 716.6V614.4" stroke="#222" stroke-width="0.7" stroke-dasharray="3.5 6.1" stroke-dashoffset="1.3" fill="none"/>
<path d="M153.7 716.6h-13.8M870.5 716.6h13.8M153.7 710.9h-7.0M870.5 710.9h7.0M153.7 705.2h-7.0M870.5 705.2h7.0M153.7 699.6h-13.8M870.5 699.6h13.8M153.7 693.9h-7.0M870.5 693.9h7.0M153.7 688.2h-7.0M870.5 688.2h7.0M153.7 682.5h-13.8M870.5 682.5h13.8M153.7 676.9h-7.0M870.5 676.9h7.0M153.7 671.2h-7.0M870.5 671.2h7.0M153.7 665.5h-13.8M870.5 665.5h13.8M153.7 659.8h-7.0M870.5 659.8h7.0M153.7 654.1h-7.0M870.5 654.1h7.0M153.7 648.5h-13.8M870.5 648.5h13.8M153.7 642.8h-7.0M870.5 642.8h7.0M153.7 637.1h-7.0M870.5 637.1h7.0M153.7 631.4h-13.8M870.5 631.4h13.8M153.7 625.8h-7.0M870.5 625.8h7.0M153.7 620.1h-7.0M870.5 620.1h7.0M153.7 614.4h-13.8M870.5 614.4h13.8M204.9 716.6v13.5M256.1 716.6v13.5M307.3 716.6v13.5M358.5 716.6v13.5M409.7 716.6v13.5M460.9 716.6v13.5M512.1 716.6v13.5M563.3 716.6v13.5M614.5 716.6v13.5M665.7 716.6v13.5M716.9 716.6v13.5M768.1 716.6v13.5M819.3 716.6v13.5" stroke="#000" stroke-width="0.78" fill="none"/>
<rect x="153.7" y="614.4" width="716.8" height="102.2" fill="none" stroke="#000" stroke-width="1.0"/>
<polyline points="204.9,660.8 256.1,686.0 307.3,698.6 358.5,700.9 409.7,704.9 460.9,688.0 512.1,646.5 563.3,624.6 614.5,636.5 665.7,671.4 716.9,688.0 768.1,694.0 819.3,698.9" fill="none" stroke="#ff1a1a" stroke-width="1.2"/>
<text x="134.3" y="719.8" font-size="8.9" text-anchor="end">-3</text>
<text x="134.3" y="702.8" font-size="8.9" text-anchor="end">0</text>
<text x="134.3" y="685.7" font-size="8.9" text-anchor="end">3</text>
<text x="134.3" y="668.7" font-size="8.9" text-anchor="end">6</text>
<text x="134.3" y="651.7" font-size="8.9" text-anchor="end">9</text>
<text x="134.3" y="634.6" font-size="8.9" text-anchor="end">12</text>
<text x="134.3" y="617.6" font-size="8.9" text-anchor="end">15</text>
<text transform="translate(108.4 665.5) rotate(-90)" font-size="24.0" text-anchor="middle">TEMP at 2 M</text>
<text transform="translate(208.1 743.0) rotate(-45)" font-size="13.0" text-anchor="middle" dy="0.36em">28_12</text>
<text transform="translate(259.3 743.0) rotate(-45)" font-size="13.0" text-anchor="middle" dy="0.36em">28_15</text>
<text transform="translate(310.5 743.0) rotate(-45)" font-size="13.0" text-anchor="middle" dy="0.36em">28_18</text>
<text transform="translate(361.7 743.0) rotate(-45)" font-size="13.0" text-anchor="middle" dy="0.36em">28_21</text>
<text transform="translate(412.9 743.0) rotate(-45)" font-size="13.0" text-anchor="middle" dy="0.36em">29_00</text>
<text transform="translate(464.1 743.0) rotate(-45)" font-size="13.0" text-anchor="middle" dy="0.36em">29_03</text>
<text transform="translate(515.3 743.0) rotate(-45)" font-size="13.0" text-anchor="middle" dy="0.36em">29_06</text>
<text transform="translate(566.5 743.0) rotate(-45)" font-size="13.0" text-anchor="middle" dy="0.36em">29_09</text>
<text transform="translate(617.7 743.0) rotate(-45)" font-size="13.0" text-anchor="middle" dy="0.36em">29_12</text>
<text transform="translate(668.9 743.0) rotate(-45)" font-size="13.0" text-anchor="middle" dy="0.36em">29_15</text>
<text transform="translate(720.1 743.0) rotate(-45)" font-size="13.0" text-anchor="middle" dy="0.36em">29_18</text>
<text transform="translate(771.3 743.0) rotate(-45)" font-size="13.0" text-anchor="middle" dy="0.36em">29_21</text>
<text transform="translate(822.5 743.0) rotate(-45)" font-size="13.0" text-anchor="middle" dy="0.36em">30_00</text>
<path d="M153.7 925.6H870.5M153.7 898.9H870.5M153.7 872.3H870.5M153.7 845.6H870.5" stroke="#222" stroke-width="0.7" stroke-dasharray="3.5 6.1" fill="none"/>
<path d="M213.2 952.2V819.0M273.0 952.2V819.0M332.8 952.2V819.0M392.5 952.2V819.0M452.2 952.2V819.0M512.0 952.2V819.0M571.8 952.2V819.0M631.5 952.2V819.0M691.2 952.2V819.0M751.0 952.2V819.0M810.8 952.2V819.0" stroke="#222" stroke-width="0.7" stroke-dasharray="3.5 6.1" stroke-dashoffset="1.3" fill="none"/>
<path d="M153.7 952.2h-13.8M870.5 952.2h13.8M153.7 945.5h-7.0M870.5 945.5h7.0M153.7 938.9h-7.0M870.5 938.9h7.0M153.7 932.2h-7.0M870.5 932.2h7.0M153.7 925.6h-13.8M870.5 925.6h13.8M153.7 918.9h-7.0M870.5 918.9h7.0M153.7 912.2h-7.0M870.5 912.2h7.0M153.7 905.6h-7.0M870.5 905.6h7.0M153.7 898.9h-13.8M870.5 898.9h13.8M153.7 892.3h-7.0M870.5 892.3h7.0M153.7 885.6h-7.0M870.5 885.6h7.0M153.7 878.9h-7.0M870.5 878.9h7.0M153.7 872.3h-13.8M870.5 872.3h13.8M153.7 865.6h-7.0M870.5 865.6h7.0M153.7 859.0h-7.0M870.5 859.0h7.0M153.7 852.3h-7.0M870.5 852.3h7.0M153.7 845.6h-13.8M870.5 845.6h13.8M153.7 839.0h-7.0M870.5 839.0h7.0M153.7 832.3h-7.0M870.5 832.3h7.0M153.7 825.7h-7.0M870.5 825.7h7.0M153.7 819.0h-13.8M870.5 819.0h13.8M153.5 952.2v13.5M213.2 952.2v13.5M273.0 952.2v13.5M332.8 952.2v13.5M392.5 952.2v13.5M452.2 952.2v13.5M512.0 952.2v13.5M571.8 952.2v13.5M631.5 952.2v13.5M691.2 952.2v13.5M751.0 952.2v13.5M810.8 952.2v13.5M870.5 952.2v13.5" stroke="#000" stroke-width="0.78" fill="none"/>
<rect x="153.7" y="819.0" width="716.8" height="133.2" fill="none" stroke="#000" stroke-width="1.0"/>
<path d="M153.7 952.2H870.5" stroke="#0b7a0b" stroke-width="1.3"/>
<text x="134.3" y="955.8" font-size="9.9" text-anchor="end">0.0</text>
<text x="134.3" y="929.1" font-size="9.9" text-anchor="end">0.2</text>
<text x="134.3" y="902.5" font-size="9.9" text-anchor="end">0.4</text>
<text x="134.3" y="875.8" font-size="9.9" text-anchor="end">0.6</text>
<text x="134.3" y="849.2" font-size="9.9" text-anchor="end">0.8</text>
<text x="134.3" y="822.6" font-size="9.9" text-anchor="end">1.0</text>
<text transform="translate(101.2 885.6) rotate(-90)" font-size="24.9" text-anchor="middle">PRECIP, mm</text>
<text transform="translate(156.7 978.6) rotate(-45)" font-size="13.0" text-anchor="middle" dy="0.36em">28_12</text>
<text transform="translate(216.4 978.6) rotate(-45)" font-size="13.0" text-anchor="middle" dy="0.36em">28_15</text>
<text transform="translate(276.2 978.6) rotate(-45)" font-size="13.0" text-anchor="middle" dy="0.36em">28_18</text>
<text transform="translate(335.9 978.6) rotate(-45)" font-size="13.0" text-anchor="middle" dy="0.36em">28_21</text>
<text transform="translate(395.7 978.6) rotate(-45)" font-size="13.0" text-anchor="middle" dy="0.36em">29_00</text>
<text transform="translate(455.4 978.6) rotate(-45)" font-size="13.0" text-anchor="middle" dy="0.36em">29_03</text>
<text transform="translate(515.2 978.6) rotate(-45)" font-size="13.0" text-anchor="middle" dy="0.36em">29_06</text>
<text transform="translate(575.0 978.6) rotate(-45)" font-size="13.0" text-anchor="middle" dy="0.36em">29_09</text>
<text transform="translate(634.7 978.6) rotate(-45)" font-size="13.0" text-anchor="middle" dy="0.36em">29_12</text>
<text transform="translate(694.5 978.6) rotate(-45)" font-size="13.0" text-anchor="middle" dy="0.36em">29_15</text>
<text transform="translate(754.2 978.6) rotate(-45)" font-size="13.0" text-anchor="middle" dy="0.36em">29_18</text>
<text transform="translate(814.0 978.6) rotate(-45)" font-size="13.0" text-anchor="middle" dy="0.36em">29_21</text>
<text transform="translate(873.7 978.6) rotate(-45)" font-size="13.0" text-anchor="middle" dy="0.36em">30_00</text>
</svg>
</body></html>
